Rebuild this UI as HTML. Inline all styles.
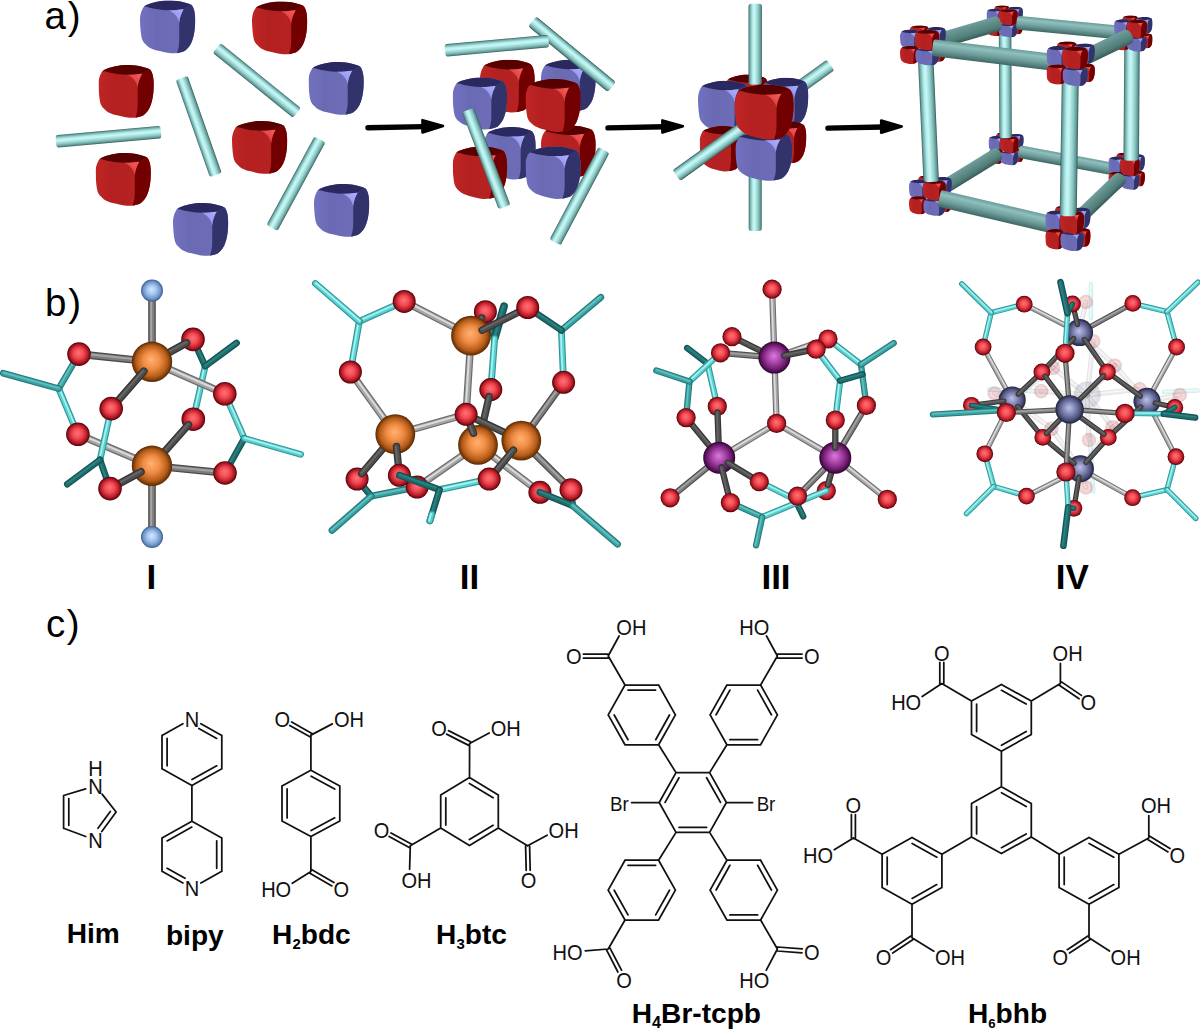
<!DOCTYPE html><html><head><meta charset="utf-8"><title>figure</title><style>html,body{margin:0;padding:0;background:#fff}svg{display:block}text{font-family:"Liberation Sans",sans-serif}.r{font-weight:400}.b{font-weight:700}</style></head><body><svg width="1200" height="1029" viewBox="0 0 1200 1029">
<defs>
 <clipPath id="sil"><path d="M0,18 C0.5,11 3,6.5 6,4.7 C12,2 22,0 28.7,0 C36,0 46,1.5 51.5,4.4 C54,6 55.6,12 55.6,19.3 C55.6,27 55,36 51.5,43.3 C49,48 46,51 43.9,51.5 C40,53 35,53.6 31.3,53.4 C26,53 21,51.5 18.6,50.9 C13,49.5 10,48 7.9,46.4 C5,44 3,42 2.2,39.5 C0.8,35 0,25 0,18 Z"/></clipPath>
 <linearGradient id="hlR" x1="1" y1="0" x2="0.2" y2="0.8"><stop offset="0" stop-color="#ff5c5c"/><stop offset="1" stop-color="#cf3a3a"/></linearGradient>
 <linearGradient id="hlB" x1="1" y1="0" x2="0.2" y2="0.8"><stop offset="0" stop-color="#b0b0ff"/><stop offset="1" stop-color="#9090e8"/></linearGradient>
 <linearGradient id="frR" x1="0" y1="0" x2="1" y2="0"><stop offset="0" stop-color="#c22626"/><stop offset="0.3" stop-color="#b42020"/><stop offset="1" stop-color="#b82323"/></linearGradient>
 <linearGradient id="frB" x1="0" y1="0" x2="1" y2="0"><stop offset="0" stop-color="#7272c2"/><stop offset="0.3" stop-color="#6a6ab4"/><stop offset="1" stop-color="#6e6eba"/></linearGradient>
 <symbol id="cR" viewBox="0 0 56 54" preserveAspectRatio="none"><g clip-path="url(#sil)">
  <rect x="-2" y="-2" width="60" height="58" fill="url(#frR)"/>
  <path d="M-2,-2 L-2,9 L5.4,6 C14,8.6 22,9.8 28.7,9.8 C34,9.8 40,9.3 43.9,8.8 L54,3 L58,-2 Z" fill="#560000"/>
  <path d="M43.9,8.8 L58,0 L58,56 L36.5,56 L37.6,52.1 C39,48 39.5,44 39.5,40 L39.5,22.4 C40,17 42,12 43.9,8.8 Z" fill="#720000"/>
  <path d="M28.7,9.8 C34,9.8 40,9.3 43.9,8.8 C42,12 40,17 39.5,22.4 C38.5,17 34,11.5 28.7,9.8 Z" fill="url(#hlR)"/>
 </g></symbol>
 <symbol id="cB" viewBox="0 0 56 54" preserveAspectRatio="none"><g clip-path="url(#sil)">
  <rect x="-2" y="-2" width="60" height="58" fill="url(#frB)"/>
  <path d="M-2,-2 L-2,9 L5.4,6 C14,8.6 22,9.8 28.7,9.8 C34,9.8 40,9.3 43.9,8.8 L54,3 L58,-2 Z" fill="#29295f"/>
  <path d="M43.9,8.8 L58,0 L58,56 L36.5,56 L37.6,52.1 C39,48 39.5,44 39.5,40 L39.5,22.4 C40,17 42,12 43.9,8.8 Z" fill="#33336c"/>
  <path d="M28.7,9.8 C34,9.8 40,9.3 43.9,8.8 C42,12 40,17 39.5,22.4 C38.5,17 34,11.5 28.7,9.8 Z" fill="url(#hlB)"/>
 </g></symbol>
 <linearGradient id="rodL" x1="0" y1="0" x2="0" y2="1"><stop offset="0" stop-color="#3c6260"/><stop offset="0.1" stop-color="#6ca6a3"/><stop offset="0.3" stop-color="#b0ecea"/><stop offset="0.45" stop-color="#c8f8f6"/><stop offset="0.72" stop-color="#8ecac7"/><stop offset="0.9" stop-color="#5e9693"/><stop offset="1" stop-color="#345755"/></linearGradient>
 <linearGradient id="rodM" x1="0" y1="0" x2="0" y2="1"><stop offset="0" stop-color="#6a9a97"/><stop offset="0.25" stop-color="#8fc0bd"/><stop offset="0.6" stop-color="#6f9f9c"/><stop offset="1" stop-color="#3f6663"/></linearGradient>
 <linearGradient id="rodD" x1="0" y1="0" x2="0" y2="1"><stop offset="0" stop-color="#70a09c"/><stop offset="0.3" stop-color="#638f8c"/><stop offset="0.7" stop-color="#527e7a"/><stop offset="1" stop-color="#385a57"/></linearGradient>
</defs>
<text x="44.6" y="28.8" font-size="38.5" class="r">a<tspan dx="1.8">)</tspan></text>
<use href="#cB" x="140.0" y="0.5" width="55.6" height="53.4"/>
<use href="#cR" x="252.0" y="1.5" width="55.6" height="53.4"/>
<use href="#cR" x="98.5" y="65.0" width="55.6" height="53.4"/>
<use href="#cB" x="308.5" y="62.0" width="55.6" height="53.4"/>
<use href="#cR" x="232.0" y="121.0" width="55.6" height="53.4"/>
<use href="#cR" x="95.6" y="153.0" width="55.6" height="53.4"/>
<use href="#cB" x="173.0" y="203.0" width="55.6" height="53.4"/>
<use href="#cB" x="314.0" y="184.0" width="55.6" height="53.4"/>
<g transform="translate(56.0,141.5) rotate(-5.17)"><rect x="0" y="-6.25" width="105.4" height="12.50" rx="2.2" ry="2.64" fill="url(#rodL)"/></g>
<g transform="translate(215.8,175.0) rotate(-109.37)"><rect x="0" y="-6.25" width="102.8" height="12.50" rx="2.2" ry="2.64" fill="url(#rodL)"/></g>
<g transform="translate(216.7,48.0) rotate(38.99)"><rect x="0" y="-6.25" width="103.3" height="12.50" rx="2.2" ry="2.64" fill="url(#rodL)"/></g>
<g transform="translate(272.0,228.0) rotate(-61.55)"><rect x="0" y="-6.25" width="100.8" height="12.50" rx="2.2" ry="2.64" fill="url(#rodL)"/></g>
<path d="M368.0,127.7 L424.5,126.60000000000001" stroke="#000" stroke-width="5.4" stroke-linecap="round"/>
<path d="M443.0,126.0 L422.5,120.2 L422.5,132.4 Z" fill="#000" stroke="#000" stroke-width="2.6" stroke-linejoin="round"/>
<path d="M608.0,127.9 L664.4,126.80000000000001" stroke="#000" stroke-width="5.4" stroke-linecap="round"/>
<path d="M682.9,126.2 L662.4,120.4 L662.4,132.6 Z" fill="#000" stroke="#000" stroke-width="2.6" stroke-linejoin="round"/>
<path d="M828.0,128.1 L883.2,127.0" stroke="#000" stroke-width="5.4" stroke-linecap="round"/>
<path d="M901.7,126.39999999999999 L881.2,120.6 L881.2,132.79999999999998 Z" fill="#000" stroke="#000" stroke-width="2.6" stroke-linejoin="round"/>
<use href="#cR" x="480.0" y="59.8" width="55.0" height="53.2"/>
<g transform="translate(532.3,21.5) rotate(39.49)"><rect x="0" y="-6.25" width="103.0" height="12.50" rx="2.2" ry="2.64" fill="url(#rodL)"/></g>
<use href="#cB" x="541.0" y="59.8" width="55.0" height="52.2"/>
<g transform="translate(532.3,21.5) rotate(39.49)"><rect x="0" y="-6.25" width="103.0" height="12.50" rx="2.2" ry="2.64" fill="url(#rodL)"/></g>
<g transform="translate(445.0,50.5) rotate(-5.23)"><rect x="0" y="-6.25" width="104.1" height="12.50" rx="2.2" ry="2.64" fill="url(#rodL)"/></g>
<use href="#cB" x="484.0" y="127.0" width="52.0" height="53.0"/>
<use href="#cR" x="541.0" y="125.5" width="55.0" height="52.5"/>
<use href="#cB" x="452.7" y="77.5" width="54.8" height="52.5"/>
<use href="#cR" x="525.5" y="79.0" width="55.5" height="53.5"/>
<use href="#cR" x="452.7" y="146.5" width="54.8" height="53.0"/>
<use href="#cB" x="525.5" y="146.5" width="55.5" height="53.0"/>
<g transform="translate(504.5,207.0) rotate(-110.67)"><rect x="0" y="-6.25" width="103.7" height="12.50" rx="2.2" ry="2.64" fill="url(#rodL)"/></g>
<g transform="translate(555.0,242.4) rotate(-62.06)"><rect x="0" y="-6.25" width="104.6" height="12.50" rx="2.2" ry="2.64" fill="url(#rodL)"/></g>
<use href="#cR" x="724.5" y="74.5" width="44.5" height="45.5"/>
<g transform="translate(755.2,84.6) rotate(-90.00)"><rect x="0" y="-6.70" width="80.8" height="13.40" rx="2.2" ry="2.64" fill="url(#rodL)"/></g>
<g transform="translate(755.2,231.0) rotate(-90.00)"><rect x="0" y="-6.50" width="61.0" height="13.00" rx="2.2" ry="2.64" fill="url(#rodL)"/></g>
<g transform="translate(676.5,175.5) rotate(-35.64)"><rect x="0" y="-6.50" width="189.6" height="13.00" rx="2.2" ry="2.64" fill="url(#rodL)"/></g>
<use href="#cB" x="761.0" y="77.8" width="47.6" height="48.2"/>
<use href="#cR" x="763.6" y="121.0" width="43.0" height="42.6"/>
<use href="#cB" x="698.0" y="80.8" width="52.0" height="52.2"/>
<use href="#cR" x="699.7" y="126.0" width="44.3" height="46.0"/>
<g transform="translate(676.5,175.5) rotate(-35.63)"><rect x="0" y="-6.50" width="84.3" height="13.00" rx="2.2" ry="2.64" fill="url(#rodL)"/></g>
<use href="#cB" x="735.4" y="131.5" width="57.3" height="49.8"/>
<use href="#cR" x="734.6" y="84.6" width="59.4" height="55.6"/>
<use href="#cR" x="995.9" y="132.6" width="14.8" height="11.8"/>
<use href="#cB" x="1007.9" y="133.9" width="15.9" height="15.1"/>
<use href="#cR" x="1009.7" y="148.7" width="14.1" height="13.8"/>
<use href="#cB" x="988.5" y="135.9" width="15.5" height="16.4"/>
<use href="#cR" x="988.5" y="149.3" width="14.8" height="14.9"/>
<use href="#cB" x="1000.1" y="151.0" width="18.5" height="14.4"/>
<use href="#cR" x="999.8" y="136.4" width="19.1" height="16.7"/>
<g transform="translate(1018.5,151.4) rotate(10.56)"><rect x="0" y="-6.30" width="110.8" height="12.60" rx="3" ry="3.5999999999999996" fill="url(#rodM)"/></g>
<g transform="translate(1005.6,138.2) rotate(-90.29)"><rect x="0" y="-6.25" width="116.7" height="12.50" rx="3" ry="3.5999999999999996" fill="url(#rodL)"/></g>
<use href="#cR" x="1116.1" y="152.8" width="15.4" height="13.4"/>
<use href="#cB" x="1128.5" y="154.3" width="16.5" height="17.1"/>
<use href="#cR" x="1130.4" y="171.0" width="14.6" height="15.6"/>
<use href="#cB" x="1108.4" y="156.5" width="16.1" height="18.6"/>
<use href="#cR" x="1108.4" y="171.8" width="15.4" height="16.9"/>
<use href="#cB" x="1120.5" y="173.6" width="19.2" height="16.4"/>
<use href="#cR" x="1120.1" y="157.1" width="19.8" height="19.0"/>
<use href="#cR" x="994.2" y="5.5" width="15.3" height="11.5"/>
<use href="#cB" x="1006.6" y="6.8" width="16.4" height="14.7"/>
<use href="#cR" x="1008.4" y="21.1" width="14.6" height="13.4"/>
<use href="#cB" x="986.5" y="8.7" width="16.1" height="15.9"/>
<use href="#cR" x="986.5" y="21.8" width="15.3" height="14.5"/>
<use href="#cB" x="998.5" y="23.4" width="19.2" height="14.0"/>
<use href="#cR" x="998.2" y="9.2" width="19.7" height="16.3"/>
<g transform="translate(1131.2,160.8) rotate(-89.59)"><rect x="0" y="-7.75" width="126.8" height="15.50" rx="3.5" ry="4.2" fill="url(#rodL)"/></g>
<g transform="translate(1016.5,22.6) rotate(5.56)"><rect x="0" y="-6.90" width="117.8" height="13.80" rx="3" ry="3.5999999999999996" fill="url(#rodM)"/></g>
<use href="#cR" x="1122.1" y="15.6" width="16.2" height="13.0"/>
<use href="#cB" x="1135.2" y="17.0" width="17.4" height="16.7"/>
<use href="#cR" x="1137.2" y="33.3" width="15.4" height="15.2"/>
<use href="#cB" x="1114.0" y="19.2" width="17.0" height="18.1"/>
<use href="#cR" x="1114.0" y="34.1" width="16.2" height="16.5"/>
<use href="#cB" x="1126.7" y="35.9" width="20.3" height="15.9"/>
<use href="#cR" x="1126.4" y="19.8" width="20.8" height="18.5"/>
<g transform="translate(922.8,45.5) rotate(-16.28)"><rect x="0" y="-7.75" width="81.4" height="15.50" rx="5" ry="6.0" fill="url(#rodD)"/></g>
<g transform="translate(1070.5,64.4) rotate(-25.69)"><rect x="0" y="-7.75" width="68.0" height="15.50" rx="5" ry="6.0" fill="url(#rodD)"/></g>
<g transform="translate(930.4,195.7) rotate(-31.70)"><rect x="0" y="-7.00" width="82.6" height="14.00" rx="5" ry="6.0" fill="url(#rodD)"/></g>
<g transform="translate(1068.0,228.5) rotate(-43.72)"><rect x="0" y="-7.00" width="76.4" height="14.00" rx="5" ry="6.0" fill="url(#rodD)"/></g>
<use href="#cR" x="918.0" y="175.5" width="18.1" height="14.6"/>
<use href="#cB" x="932.6" y="177.1" width="19.4" height="18.6"/>
<use href="#cR" x="934.8" y="195.3" width="17.2" height="17.0"/>
<use href="#cB" x="909.0" y="179.6" width="18.9" height="20.2"/>
<use href="#cR" x="909.0" y="196.2" width="18.1" height="18.4"/>
<use href="#cB" x="923.2" y="198.2" width="22.6" height="17.8"/>
<use href="#cR" x="922.8" y="180.2" width="23.2" height="20.7"/>
<g transform="translate(931.2,182.0) rotate(-92.56)"><rect x="0" y="-7.75" width="136.6" height="15.50" rx="3.5" ry="4.2" fill="url(#rodL)"/></g>
<g transform="translate(939.2,198.2) rotate(13.24)"><rect x="0" y="-8.50" width="132.3" height="17.00" rx="2.2" ry="2.64" fill="url(#rodM)"/></g>
<use href="#cR" x="1054.8" y="205.8" width="19.1" height="16.4"/>
<use href="#cB" x="1070.3" y="207.6" width="20.4" height="20.9"/>
<use href="#cR" x="1072.5" y="228.1" width="18.2" height="19.1"/>
<use href="#cB" x="1045.3" y="210.4" width="20.0" height="22.8"/>
<use href="#cR" x="1045.3" y="229.0" width="19.1" height="20.7"/>
<use href="#cB" x="1060.3" y="231.3" width="23.8" height="20.0"/>
<use href="#cR" x="1059.8" y="211.0" width="24.5" height="23.2"/>
<use href="#cR" x="909.7" y="25.5" width="19.3" height="14.4"/>
<use href="#cB" x="925.3" y="27.1" width="20.7" height="18.4"/>
<use href="#cR" x="927.6" y="45.1" width="18.4" height="16.8"/>
<use href="#cB" x="900.0" y="29.5" width="20.2" height="20.0"/>
<use href="#cR" x="900.0" y="46.0" width="19.3" height="18.2"/>
<use href="#cB" x="915.2" y="48.0" width="24.2" height="17.6"/>
<use href="#cR" x="914.7" y="30.1" width="24.8" height="20.5"/>
<g transform="translate(1068.2,216.2) rotate(-89.13)"><rect x="0" y="-8.50" width="151.8" height="17.00" rx="4" ry="4.8" fill="url(#rodL)"/></g>
<g transform="translate(932.5,47.6) rotate(6.94)"><rect x="0" y="-8.50" width="139.0" height="17.00" rx="2.2" ry="2.64" fill="url(#rodM)"/></g>
<use href="#cR" x="1056.7" y="41.6" width="20.4" height="16.1"/>
<use href="#cB" x="1073.2" y="43.4" width="21.8" height="20.6"/>
<use href="#cR" x="1075.6" y="63.6" width="19.4" height="18.8"/>
<use href="#cB" x="1046.5" y="46.1" width="21.3" height="22.4"/>
<use href="#cR" x="1046.5" y="64.4" width="20.4" height="20.4"/>
<use href="#cB" x="1062.5" y="66.7" width="25.5" height="19.7"/>
<use href="#cR" x="1062.0" y="46.8" width="26.2" height="22.8"/>
<defs><radialGradient id="bCu" cx="0.5" cy="0.5" r="0.5" fx="0.48" fy="0.44"><stop offset="0" stop-color="#ffb272"/><stop offset="0.42" stop-color="#f08c44"/><stop offset="0.78" stop-color="#b45c18"/><stop offset="1" stop-color="#582802"/></radialGradient><radialGradient id="bO" cx="0.5" cy="0.5" r="0.5" fx="0.48" fy="0.44"><stop offset="0" stop-color="#ff7272"/><stop offset="0.42" stop-color="#f24a54"/><stop offset="0.78" stop-color="#b41a26"/><stop offset="1" stop-color="#500006"/></radialGradient><radialGradient id="bN" cx="0.5" cy="0.5" r="0.5" fx="0.48" fy="0.44"><stop offset="0" stop-color="#d4e8ff"/><stop offset="0.42" stop-color="#a4c6f0"/><stop offset="0.78" stop-color="#6f96c8"/><stop offset="1" stop-color="#3f5c88"/></radialGradient><radialGradient id="bMn" cx="0.5" cy="0.5" r="0.5" fx="0.48" fy="0.44"><stop offset="0" stop-color="#dc7adc"/><stop offset="0.42" stop-color="#a844a8"/><stop offset="0.78" stop-color="#6c1a6c"/><stop offset="1" stop-color="#2e042e"/></radialGradient><radialGradient id="bZr" cx="0.5" cy="0.5" r="0.5" fx="0.48" fy="0.44"><stop offset="0" stop-color="#bcc0ea"/><stop offset="0.42" stop-color="#8286b4"/><stop offset="0.78" stop-color="#4c507a"/><stop offset="1" stop-color="#1e2038"/></radialGradient></defs>
<text x="45" y="315.9" font-size="38.5" class="r">b<tspan dx="1.8">)</tspan></text>
<g fill="none" stroke-linecap="round"><path d="M193.0,339.4 L205.2,366.2" stroke="#125252" stroke-width="6.6"/><path d="M193.0,339.4 L205.2,366.2" stroke="#1e6c6c" stroke-width="4.4"/><path d="M193.6,339.1 L205.8,365.9" stroke="#2c8282" stroke-width="1.7"/></g>
<g fill="none" stroke-linecap="round"><path d="M205.2,366.2 L193.3,419.2" stroke="#2f9696" stroke-width="6.6"/><path d="M205.2,366.2 L193.3,419.2" stroke="#5cd0d0" stroke-width="4.4"/><path d="M204.6,366.1 L192.7,419.1" stroke="#a4f2f2" stroke-width="1.7"/></g>
<g fill="none" stroke-linecap="round"><path d="M205.2,366.2 L236.6,343.0" stroke="#125252" stroke-width="6.6"/><path d="M205.2,366.2 L236.6,343.0" stroke="#1e6c6c" stroke-width="4.4"/><path d="M204.8,365.7 L236.2,342.5" stroke="#2c8282" stroke-width="1.7"/></g>
<circle cx="193.0" cy="339.4" r="11.8" fill="url(#bO)"/>
<circle cx="193.3" cy="419.2" r="11.8" fill="url(#bO)"/>
<g fill="none" stroke-linecap="round"><path d="M152.0,361.8 L186.6,342.9" stroke="#343434" stroke-width="7.6"/><path d="M152.0,361.8 L186.6,342.9" stroke="#4e4e4e" stroke-width="5.0"/><path d="M151.6,361.1 L186.2,342.2" stroke="#666666" stroke-width="2.0"/></g>
<g fill="none" stroke-linecap="round"><path d="M152.0,465.8 L188.4,424.7" stroke="#343434" stroke-width="7.6"/><path d="M152.0,465.8 L188.4,424.7" stroke="#4e4e4e" stroke-width="5.0"/><path d="M151.4,465.3 L187.9,424.2" stroke="#666666" stroke-width="2.0"/></g>
<g fill="none" stroke-linecap="round"><path d="M79.0,354.1 L58.7,388.6" stroke="#237a7a" stroke-width="6.6"/><path d="M79.0,354.1 L58.7,388.6" stroke="#3ba2a2" stroke-width="4.4"/><path d="M78.4,353.8 L58.1,388.3" stroke="#62c0c0" stroke-width="1.7"/></g>
<g fill="none" stroke-linecap="round"><path d="M58.7,388.6 L77.9,434.3" stroke="#2f9696" stroke-width="6.6"/><path d="M58.7,388.6 L77.9,434.3" stroke="#5cd0d0" stroke-width="4.4"/><path d="M59.3,388.3 L78.5,434.0" stroke="#a4f2f2" stroke-width="1.7"/></g>
<g fill="none" stroke-linecap="round"><path d="M58.7,388.6 L3.2,373.2" stroke="#237a7a" stroke-width="6.6"/><path d="M58.7,388.6 L3.2,373.2" stroke="#3ba2a2" stroke-width="4.4"/><path d="M58.9,388.0 L3.4,372.6" stroke="#62c0c0" stroke-width="1.7"/></g>
<g fill="none" stroke-linecap="round"><path d="M224.8,393.8 L244.3,438.3" stroke="#2f9696" stroke-width="6.6"/><path d="M224.8,393.8 L244.3,438.3" stroke="#5cd0d0" stroke-width="4.4"/><path d="M225.4,393.5 L244.9,438.0" stroke="#a4f2f2" stroke-width="1.7"/></g>
<g fill="none" stroke-linecap="round"><path d="M244.3,438.3 L225.0,473.0" stroke="#125252" stroke-width="6.6"/><path d="M244.3,438.3 L225.0,473.0" stroke="#1e6c6c" stroke-width="4.4"/><path d="M243.7,438.0 L224.4,472.7" stroke="#2c8282" stroke-width="1.7"/></g>
<g fill="none" stroke-linecap="round"><path d="M244.3,438.3 L300.7,454.4" stroke="#2f9696" stroke-width="6.6"/><path d="M244.3,438.3 L300.7,454.4" stroke="#5cd0d0" stroke-width="4.4"/><path d="M244.5,437.7 L300.9,453.8" stroke="#a4f2f2" stroke-width="1.7"/></g>
<g fill="none" stroke-linecap="round"><path d="M152.0,290.6 L152.0,361.8" stroke="#4c4c4c" stroke-width="7.6"/><path d="M152.0,290.6 L152.0,361.8" stroke="#7c7c7c" stroke-width="5.0"/><path d="M151.2,290.6 L151.2,361.8" stroke="#a4a4a4" stroke-width="2.0"/></g>
<g fill="none" stroke-linecap="round"><path d="M152.0,537.0 L152.0,465.8" stroke="#4c4c4c" stroke-width="7.6"/><path d="M152.0,537.0 L152.0,465.8" stroke="#7c7c7c" stroke-width="5.0"/><path d="M151.2,537.0 L151.2,465.8" stroke="#a4a4a4" stroke-width="2.0"/></g>
<g fill="none" stroke-linecap="round"><path d="M152.0,361.8 L79.0,354.1" stroke="#4c4c4c" stroke-width="7.6"/><path d="M152.0,361.8 L79.0,354.1" stroke="#7c7c7c" stroke-width="5.0"/><path d="M152.1,361.0 L79.1,353.3" stroke="#a4a4a4" stroke-width="2.0"/></g>
<g fill="none" stroke-linecap="round"><path d="M152.0,361.8 L224.8,393.8" stroke="#6e6e6e" stroke-width="7.6"/><path d="M152.0,361.8 L224.8,393.8" stroke="#a6a6a6" stroke-width="5.0"/><path d="M152.3,361.1 L225.1,393.1" stroke="#dcdcdc" stroke-width="2.0"/></g>
<g fill="none" stroke-linecap="round"><path d="M152.0,465.8 L77.9,434.3" stroke="#6e6e6e" stroke-width="7.6"/><path d="M152.0,465.8 L77.9,434.3" stroke="#a6a6a6" stroke-width="5.0"/><path d="M152.3,465.1 L78.2,433.6" stroke="#dcdcdc" stroke-width="2.0"/></g>
<g fill="none" stroke-linecap="round"><path d="M152.0,465.8 L225.0,473.0" stroke="#4c4c4c" stroke-width="7.6"/><path d="M152.0,465.8 L225.0,473.0" stroke="#7c7c7c" stroke-width="5.0"/><path d="M152.1,465.0 L225.1,472.2" stroke="#a4a4a4" stroke-width="2.0"/></g>
<circle cx="152.0" cy="290.6" r="11.0" fill="url(#bN)"/>
<circle cx="152.0" cy="537.0" r="11.0" fill="url(#bN)"/>
<circle cx="152.0" cy="361.8" r="20.2" fill="url(#bCu)"/>
<circle cx="152.0" cy="465.8" r="20.2" fill="url(#bCu)"/>
<circle cx="79.0" cy="354.1" r="11.8" fill="url(#bO)"/>
<circle cx="224.8" cy="393.8" r="11.8" fill="url(#bO)"/>
<circle cx="77.9" cy="434.3" r="11.8" fill="url(#bO)"/>
<circle cx="225.0" cy="473.0" r="11.8" fill="url(#bO)"/>
<g fill="none" stroke-linecap="round"><path d="M143.8,371.2 L111.2,408.6" stroke="#343434" stroke-width="7.6"/><path d="M143.8,371.2 L111.2,408.6" stroke="#4e4e4e" stroke-width="5.0"/><path d="M143.2,370.7 L110.6,408.1" stroke="#666666" stroke-width="2.0"/></g>
<g fill="none" stroke-linecap="round"><path d="M141.0,471.8 L110.0,488.6" stroke="#343434" stroke-width="7.6"/><path d="M141.0,471.8 L110.0,488.6" stroke="#4e4e4e" stroke-width="5.0"/><path d="M140.6,471.1 L109.6,487.9" stroke="#666666" stroke-width="2.0"/></g>
<g fill="none" stroke-linecap="round"><path d="M111.2,408.6 L100.0,459.8" stroke="#2f9696" stroke-width="6.6"/><path d="M111.2,408.6 L100.0,459.8" stroke="#5cd0d0" stroke-width="4.4"/><path d="M110.6,408.5 L99.4,459.7" stroke="#a4f2f2" stroke-width="1.7"/></g>
<g fill="none" stroke-linecap="round"><path d="M100.0,459.8 L110.0,488.6" stroke="#125252" stroke-width="6.6"/><path d="M100.0,459.8 L110.0,488.6" stroke="#1e6c6c" stroke-width="4.4"/><path d="M99.4,460.0 L109.4,488.8" stroke="#2c8282" stroke-width="1.7"/></g>
<g fill="none" stroke-linecap="round"><path d="M100.0,459.8 L67.3,484.2" stroke="#125252" stroke-width="6.6"/><path d="M100.0,459.8 L67.3,484.2" stroke="#1e6c6c" stroke-width="4.4"/><path d="M99.6,459.3 L66.9,483.7" stroke="#2c8282" stroke-width="1.7"/></g>
<circle cx="111.2" cy="408.6" r="11.8" fill="url(#bO)"/>
<circle cx="110.0" cy="488.6" r="11.8" fill="url(#bO)"/>
<g fill="none" stroke-linecap="round"><path d="M485.4,311.7 L494.7,338.3" stroke="#125252" stroke-width="6.8"/><path d="M485.4,311.7 L494.7,338.3" stroke="#1e6c6c" stroke-width="4.5"/><path d="M484.8,311.9 L494.1,338.5" stroke="#2c8282" stroke-width="1.8"/></g>
<g fill="none" stroke-linecap="round"><path d="M357.1,479.1 L371.2,496.1" stroke="#125252" stroke-width="6.8"/><path d="M357.1,479.1 L371.2,496.1" stroke="#1e6c6c" stroke-width="4.5"/><path d="M357.6,478.7 L371.7,495.7" stroke="#2c8282" stroke-width="1.8"/></g>
<circle cx="485.4" cy="311.7" r="11.5" fill="url(#bO)"/>
<circle cx="357.1" cy="479.1" r="11.5" fill="url(#bO)"/>
<g fill="none" stroke-linecap="round"><path d="M494.7,338.3 L504.0,306.3" stroke="#125252" stroke-width="7.8"/><path d="M494.7,338.3 L504.0,306.3" stroke="#1e6c6c" stroke-width="5.1"/><path d="M494.0,338.1 L503.3,306.1" stroke="#2c8282" stroke-width="2.0"/></g>
<g fill="none" stroke-linecap="round"><path d="M494.7,338.3 L490.8,389.6" stroke="#2f9696" stroke-width="6.8"/><path d="M494.7,338.3 L490.8,389.6" stroke="#5cd0d0" stroke-width="4.5"/><path d="M494.0,338.2 L490.1,389.5" stroke="#a4f2f2" stroke-width="1.8"/></g>
<circle cx="490.8" cy="389.6" r="11.5" fill="url(#bO)"/>
<g fill="none" stroke-linecap="round"><path d="M471.0,335.7 L481.7,317.8" stroke="#343434" stroke-width="7.4"/><path d="M471.0,335.7 L481.7,317.8" stroke="#4e4e4e" stroke-width="4.9"/><path d="M470.4,335.3 L481.1,317.4" stroke="#666666" stroke-width="1.9"/></g>
<g fill="none" stroke-linecap="round"><path d="M395.3,434.2 L361.7,473.7" stroke="#343434" stroke-width="7.4"/><path d="M395.3,434.2 L361.7,473.7" stroke="#4e4e4e" stroke-width="4.9"/><path d="M394.7,433.7 L361.2,473.2" stroke="#666666" stroke-width="1.9"/></g>
<g fill="none" stroke-linecap="round"><path d="M404.2,301.4 L359.3,321.3" stroke="#2f9696" stroke-width="6.8"/><path d="M404.2,301.4 L359.3,321.3" stroke="#5cd0d0" stroke-width="4.5"/><path d="M403.9,300.8 L359.0,320.7" stroke="#a4f2f2" stroke-width="1.8"/></g>
<g fill="none" stroke-linecap="round"><path d="M359.3,321.3 L350.4,372.0" stroke="#2f9696" stroke-width="6.8"/><path d="M359.3,321.3 L350.4,372.0" stroke="#5cd0d0" stroke-width="4.5"/><path d="M358.6,321.2 L349.7,371.9" stroke="#a4f2f2" stroke-width="1.8"/></g>
<g fill="none" stroke-linecap="round"><path d="M359.3,321.3 L315.4,283.5" stroke="#2f9696" stroke-width="6.8"/><path d="M359.3,321.3 L315.4,283.5" stroke="#5cd0d0" stroke-width="4.5"/><path d="M359.7,320.8 L315.8,283.0" stroke="#a4f2f2" stroke-width="1.8"/></g>
<g fill="none" stroke-linecap="round"><path d="M561.4,330.3 L563.6,382.3" stroke="#2f9696" stroke-width="6.8"/><path d="M561.4,330.3 L563.6,382.3" stroke="#5cd0d0" stroke-width="4.5"/><path d="M560.7,330.3 L562.9,382.3" stroke="#a4f2f2" stroke-width="1.8"/></g>
<g fill="none" stroke-linecap="round"><path d="M561.4,330.3 L600.8,297.3" stroke="#237a7a" stroke-width="6.8"/><path d="M561.4,330.3 L600.8,297.3" stroke="#3ba2a2" stroke-width="4.5"/><path d="M561.0,329.8 L600.4,296.8" stroke="#62c0c0" stroke-width="1.8"/></g>
<g fill="none" stroke-linecap="round"><path d="M471.0,335.7 L404.2,301.4" stroke="#6e6e6e" stroke-width="7.4"/><path d="M471.0,335.7 L404.2,301.4" stroke="#a6a6a6" stroke-width="4.9"/><path d="M471.3,335.0 L404.5,300.7" stroke="#dcdcdc" stroke-width="1.9"/></g>
<g fill="none" stroke-linecap="round"><path d="M471.0,335.7 L466.1,414.3" stroke="#6e6e6e" stroke-width="7.4"/><path d="M471.0,335.7 L466.1,414.3" stroke="#a6a6a6" stroke-width="4.9"/><path d="M470.3,335.7 L465.4,414.3" stroke="#dcdcdc" stroke-width="1.9"/></g>
<g fill="none" stroke-linecap="round"><path d="M395.3,434.2 L350.4,372.0" stroke="#6e6e6e" stroke-width="7.4"/><path d="M395.3,434.2 L350.4,372.0" stroke="#a6a6a6" stroke-width="4.9"/><path d="M395.9,433.8 L351.0,371.6" stroke="#dcdcdc" stroke-width="1.9"/></g>
<g fill="none" stroke-linecap="round"><path d="M395.3,434.2 L466.1,414.3" stroke="#6e6e6e" stroke-width="7.4"/><path d="M395.3,434.2 L466.1,414.3" stroke="#a6a6a6" stroke-width="4.9"/><path d="M395.1,433.5 L465.9,413.6" stroke="#dcdcdc" stroke-width="1.9"/></g>
<circle cx="471.0" cy="335.7" r="19.9" fill="url(#bCu)"/>
<circle cx="395.3" cy="434.2" r="19.9" fill="url(#bCu)"/>
<circle cx="404.2" cy="301.4" r="11.5" fill="url(#bO)"/>
<circle cx="350.4" cy="372.0" r="11.5" fill="url(#bO)"/>
<g fill="none" stroke-linecap="round"><path d="M478.0,444.8 L489.2,396.5" stroke="#343434" stroke-width="7.4"/><path d="M478.0,444.8 L489.2,396.5" stroke="#4e4e4e" stroke-width="4.9"/><path d="M477.3,444.6 L488.5,396.4" stroke="#666666" stroke-width="1.9"/></g>
<g fill="none" stroke-linecap="round"><path d="M521.3,440.6 L563.6,382.3" stroke="#4c4c4c" stroke-width="7.4"/><path d="M521.3,440.6 L563.6,382.3" stroke="#7c7c7c" stroke-width="4.9"/><path d="M520.7,440.2 L563.0,381.9" stroke="#a4a4a4" stroke-width="1.9"/></g>
<g fill="none" stroke-linecap="round"><path d="M521.3,440.6 L571.0,489.7" stroke="#4c4c4c" stroke-width="7.4"/><path d="M521.3,440.6 L571.0,489.7" stroke="#7c7c7c" stroke-width="4.9"/><path d="M521.8,440.1 L571.5,489.2" stroke="#a4a4a4" stroke-width="1.9"/></g>
<g fill="none" stroke-linecap="round"><path d="M482.0,330.2 L527.7,307.5" stroke="#343434" stroke-width="7.4"/><path d="M482.0,330.2 L527.7,307.5" stroke="#4e4e4e" stroke-width="4.9"/><path d="M481.7,329.5 L527.4,306.8" stroke="#666666" stroke-width="1.9"/></g>
<g fill="none" stroke-linecap="round"><path d="M521.3,440.6 L466.1,414.3" stroke="#343434" stroke-width="7.4"/><path d="M521.3,440.6 L466.1,414.3" stroke="#4e4e4e" stroke-width="4.9"/><path d="M521.6,439.9 L466.4,413.6" stroke="#666666" stroke-width="1.9"/></g>
<g fill="none" stroke-linecap="round"><path d="M527.7,307.5 L561.4,330.3" stroke="#125252" stroke-width="6.8"/><path d="M527.7,307.5 L561.4,330.3" stroke="#1e6c6c" stroke-width="4.5"/><path d="M528.1,306.9 L561.8,329.7" stroke="#2c8282" stroke-width="1.8"/></g>
<g fill="none" stroke-linecap="round"><path d="M571.0,489.7 L572.6,505.7" stroke="#125252" stroke-width="6.8"/><path d="M571.0,489.7 L572.6,505.7" stroke="#1e6c6c" stroke-width="4.5"/><path d="M570.3,489.8 L571.9,505.8" stroke="#2c8282" stroke-width="1.8"/></g>
<circle cx="521.3" cy="440.6" r="19.9" fill="url(#bCu)"/>
<circle cx="527.7" cy="307.5" r="11.5" fill="url(#bO)"/>
<circle cx="563.6" cy="382.3" r="11.5" fill="url(#bO)"/>
<circle cx="571.0" cy="489.7" r="11.5" fill="url(#bO)"/>
<g fill="none" stroke-linecap="round"><path d="M396.5,446.5 L399.4,475.3" stroke="#343434" stroke-width="7.4"/><path d="M396.5,446.5 L399.4,475.3" stroke="#4e4e4e" stroke-width="4.9"/><path d="M395.8,446.6 L398.7,475.4" stroke="#666666" stroke-width="1.9"/></g>
<g fill="none" stroke-linecap="round"><path d="M478.0,444.8 L417.1,487.1" stroke="#6e6e6e" stroke-width="7.4"/><path d="M478.0,444.8 L417.1,487.1" stroke="#a6a6a6" stroke-width="4.9"/><path d="M477.6,444.2 L416.7,486.5" stroke="#dcdcdc" stroke-width="1.9"/></g>
<g fill="none" stroke-linecap="round"><path d="M371.2,496.1 L417.1,487.1" stroke="#237a7a" stroke-width="6.8"/><path d="M371.2,496.1 L417.1,487.1" stroke="#3ba2a2" stroke-width="4.5"/><path d="M371.1,495.4 L417.0,486.4" stroke="#62c0c0" stroke-width="1.8"/></g>
<g fill="none" stroke-linecap="round"><path d="M371.2,496.1 L332.0,530.4" stroke="#237a7a" stroke-width="6.8"/><path d="M371.2,496.1 L332.0,530.4" stroke="#3ba2a2" stroke-width="4.5"/><path d="M370.8,495.6 L331.6,529.9" stroke="#62c0c0" stroke-width="1.8"/></g>
<circle cx="417.1" cy="487.1" r="11.5" fill="url(#bO)"/>
<g fill="none" stroke-linecap="round"><path d="M478.0,444.8 L539.9,492.3" stroke="#6e6e6e" stroke-width="7.4"/><path d="M478.0,444.8 L539.9,492.3" stroke="#a6a6a6" stroke-width="4.9"/><path d="M478.5,444.2 L540.4,491.7" stroke="#dcdcdc" stroke-width="1.9"/></g>
<circle cx="478.0" cy="444.8" r="19.9" fill="url(#bCu)"/>
<circle cx="399.4" cy="475.3" r="11.5" fill="url(#bO)"/>
<g fill="none" stroke-linecap="round"><path d="M399.4,475.3 L439.5,489.7" stroke="#125252" stroke-width="6.8"/><path d="M399.4,475.3 L439.5,489.7" stroke="#1e6c6c" stroke-width="4.5"/><path d="M399.6,474.7 L439.7,489.1" stroke="#2c8282" stroke-width="1.8"/></g>
<g fill="none" stroke-linecap="round"><path d="M439.5,489.7 L489.2,479.1" stroke="#2f9696" stroke-width="6.8"/><path d="M439.5,489.7 L489.2,479.1" stroke="#5cd0d0" stroke-width="4.5"/><path d="M439.4,489.0 L489.1,478.4" stroke="#a4f2f2" stroke-width="1.8"/></g>
<g fill="none" stroke-linecap="round"><path d="M439.5,489.7 L429.9,520.8" stroke="#125252" stroke-width="6.8"/><path d="M439.5,489.7 L429.9,520.8" stroke="#1e6c6c" stroke-width="4.5"/><path d="M438.9,489.5 L429.3,520.6" stroke="#2c8282" stroke-width="1.8"/></g>
<g fill="none" stroke-linecap="round"><path d="M431.8,514.0 L429.9,520.8" stroke="#2f9696" stroke-width="6.8"/><path d="M431.8,514.0 L429.9,520.8" stroke="#5cd0d0" stroke-width="4.5"/><path d="M431.1,513.8 L429.2,520.6" stroke="#a4f2f2" stroke-width="1.8"/></g>
<g fill="none" stroke-linecap="round"><path d="M473.5,433.3 L466.1,414.3" stroke="#343434" stroke-width="7.4"/><path d="M473.5,433.3 L466.1,414.3" stroke="#4e4e4e" stroke-width="4.9"/><path d="M472.8,433.6 L465.4,414.6" stroke="#666666" stroke-width="1.9"/></g>
<g fill="none" stroke-linecap="round"><path d="M513.4,450.1 L489.2,479.1" stroke="#343434" stroke-width="7.4"/><path d="M513.4,450.1 L489.2,479.1" stroke="#4e4e4e" stroke-width="4.9"/><path d="M512.8,449.6 L488.6,478.6" stroke="#666666" stroke-width="1.9"/></g>
<circle cx="466.1" cy="414.3" r="11.5" fill="url(#bO)"/>
<circle cx="489.2" cy="479.1" r="11.5" fill="url(#bO)"/>
<circle cx="539.9" cy="492.3" r="11.5" fill="url(#bO)"/>
<g fill="none" stroke-linecap="round"><path d="M539.9,492.3 L572.6,505.7" stroke="#125252" stroke-width="6.8"/><path d="M539.9,492.3 L572.6,505.7" stroke="#1e6c6c" stroke-width="4.5"/><path d="M540.2,491.7 L572.9,505.1" stroke="#2c8282" stroke-width="1.8"/></g>
<g fill="none" stroke-linecap="round"><path d="M572.6,505.7 L617.5,544.2" stroke="#237a7a" stroke-width="6.8"/><path d="M572.6,505.7 L617.5,544.2" stroke="#3ba2a2" stroke-width="4.5"/><path d="M573.0,505.2 L617.9,543.7" stroke="#62c0c0" stroke-width="1.8"/></g>
<g fill="none" stroke-linecap="round"><path d="M687.1,348.0 L707.6,363.7" stroke="#125252" stroke-width="6.3"/><path d="M687.1,348.0 L707.6,363.7" stroke="#1e6c6c" stroke-width="4.2"/><path d="M687.5,347.5 L708.0,363.2" stroke="#2c8282" stroke-width="1.6"/></g>
<g fill="none" stroke-linecap="round"><path d="M707.6,363.7 L717.3,406.4" stroke="#2f9696" stroke-width="6.3"/><path d="M707.6,363.7 L717.3,406.4" stroke="#5cd0d0" stroke-width="4.2"/><path d="M707.0,363.8 L716.7,406.5" stroke="#a4f2f2" stroke-width="1.6"/></g>
<g fill="none" stroke-linecap="round"><path d="M828.0,339.0 L861.0,364.6" stroke="#2f9696" stroke-width="6.3"/><path d="M828.0,339.0 L861.0,364.6" stroke="#5cd0d0" stroke-width="4.2"/><path d="M828.4,338.5 L861.4,364.1" stroke="#a4f2f2" stroke-width="1.6"/></g>
<g fill="none" stroke-linecap="round"><path d="M861.0,364.6 L866.4,405.4" stroke="#237a7a" stroke-width="6.3"/><path d="M861.0,364.6 L866.4,405.4" stroke="#3ba2a2" stroke-width="4.2"/><path d="M860.4,364.7 L865.8,405.5" stroke="#62c0c0" stroke-width="1.6"/></g>
<g fill="none" stroke-linecap="round"><path d="M861.0,364.6 L893.7,343.1" stroke="#237a7a" stroke-width="6.3"/><path d="M861.0,364.6 L893.7,343.1" stroke="#3ba2a2" stroke-width="4.2"/><path d="M860.7,364.1 L893.4,342.6" stroke="#62c0c0" stroke-width="1.6"/></g>
<g fill="none" stroke-linecap="round"><path d="M774.4,357.6 L828.0,339.0" stroke="#6e6e6e" stroke-width="6.3"/><path d="M774.4,357.6 L828.0,339.0" stroke="#a6a6a6" stroke-width="4.2"/><path d="M774.2,357.0 L827.8,338.4" stroke="#dcdcdc" stroke-width="1.6"/></g>
<g fill="none" stroke-linecap="round"><path d="M835.3,457.7 L866.4,405.4" stroke="#4c4c4c" stroke-width="6.3"/><path d="M835.3,457.7 L866.4,405.4" stroke="#7c7c7c" stroke-width="4.2"/><path d="M834.8,457.4 L865.9,405.1" stroke="#a4a4a4" stroke-width="1.6"/></g>
<circle cx="828.0" cy="339.0" r="9.6" fill="url(#bO)"/>
<circle cx="717.3" cy="406.4" r="9.6" fill="url(#bO)"/>
<circle cx="866.4" cy="405.4" r="9.6" fill="url(#bO)"/>
<circle cx="826.3" cy="490.7" r="9.6" fill="url(#bO)"/>
<g fill="none" stroke-linecap="round"><path d="M719.2,457.7 L717.5,412.3" stroke="#343434" stroke-width="6.3"/><path d="M719.2,457.7 L717.5,412.3" stroke="#4e4e4e" stroke-width="4.2"/><path d="M718.6,457.7 L716.9,412.4" stroke="#666666" stroke-width="1.6"/></g>
<g fill="none" stroke-linecap="round"><path d="M835.3,457.7 L827.9,485.0" stroke="#343434" stroke-width="6.3"/><path d="M835.3,457.7 L827.9,485.0" stroke="#4e4e4e" stroke-width="4.2"/><path d="M834.7,457.5 L827.3,484.8" stroke="#666666" stroke-width="1.6"/></g>
<g fill="none" stroke-linecap="round"><path d="M774.4,357.6 L772.1,289.2" stroke="#6e6e6e" stroke-width="6.3"/><path d="M774.4,357.6 L772.1,289.2" stroke="#a6a6a6" stroke-width="4.2"/><path d="M773.8,357.6 L771.5,289.2" stroke="#dcdcdc" stroke-width="1.6"/></g>
<g fill="none" stroke-linecap="round"><path d="M774.4,357.6 L732.0,336.7" stroke="#343434" stroke-width="6.3"/><path d="M774.4,357.6 L732.0,336.7" stroke="#4e4e4e" stroke-width="4.2"/><path d="M774.7,357.0 L732.3,336.1" stroke="#666666" stroke-width="1.6"/></g>
<g fill="none" stroke-linecap="round"><path d="M774.4,357.6 L720.5,352.8" stroke="#4c4c4c" stroke-width="6.3"/><path d="M774.4,357.6 L720.5,352.8" stroke="#7c7c7c" stroke-width="4.2"/><path d="M774.5,357.0 L720.6,352.2" stroke="#a4a4a4" stroke-width="1.6"/></g>
<g fill="none" stroke-linecap="round"><path d="M774.4,357.6 L776.6,423.4" stroke="#6e6e6e" stroke-width="6.3"/><path d="M774.4,357.6 L776.6,423.4" stroke="#a6a6a6" stroke-width="4.2"/><path d="M773.8,357.6 L776.0,423.4" stroke="#dcdcdc" stroke-width="1.6"/></g>
<g fill="none" stroke-linecap="round"><path d="M719.2,457.7 L686.1,417.6" stroke="#343434" stroke-width="6.3"/><path d="M719.2,457.7 L686.1,417.6" stroke="#4e4e4e" stroke-width="4.2"/><path d="M719.7,457.3 L686.6,417.2" stroke="#666666" stroke-width="1.6"/></g>
<g fill="none" stroke-linecap="round"><path d="M719.2,457.7 L776.6,423.4" stroke="#6e6e6e" stroke-width="6.3"/><path d="M719.2,457.7 L776.6,423.4" stroke="#a6a6a6" stroke-width="4.2"/><path d="M718.9,457.2 L776.3,422.9" stroke="#dcdcdc" stroke-width="1.6"/></g>
<g fill="none" stroke-linecap="round"><path d="M719.2,457.7 L670.1,497.8" stroke="#4c4c4c" stroke-width="6.3"/><path d="M719.2,457.7 L670.1,497.8" stroke="#7c7c7c" stroke-width="4.2"/><path d="M718.8,457.2 L669.7,497.3" stroke="#a4a4a4" stroke-width="1.6"/></g>
<g fill="none" stroke-linecap="round"><path d="M835.3,457.7 L776.6,423.4" stroke="#6e6e6e" stroke-width="6.3"/><path d="M835.3,457.7 L776.6,423.4" stroke="#a6a6a6" stroke-width="4.2"/><path d="M835.6,457.2 L776.9,422.9" stroke="#dcdcdc" stroke-width="1.6"/></g>
<g fill="none" stroke-linecap="round"><path d="M835.3,457.7 L797.5,496.2" stroke="#4c4c4c" stroke-width="6.3"/><path d="M835.3,457.7 L797.5,496.2" stroke="#7c7c7c" stroke-width="4.2"/><path d="M834.9,457.3 L797.1,495.8" stroke="#a4a4a4" stroke-width="1.6"/></g>
<g fill="none" stroke-linecap="round"><path d="M835.3,457.7 L887.3,499.4" stroke="#6e6e6e" stroke-width="6.3"/><path d="M835.3,457.7 L887.3,499.4" stroke="#a6a6a6" stroke-width="4.2"/><path d="M835.7,457.2 L887.7,498.9" stroke="#dcdcdc" stroke-width="1.6"/></g>
<circle cx="774.4" cy="357.6" r="16.0" fill="url(#bMn)"/>
<circle cx="719.2" cy="457.7" r="16.0" fill="url(#bMn)"/>
<circle cx="835.3" cy="457.7" r="16.0" fill="url(#bMn)"/>
<circle cx="772.1" cy="289.2" r="9.6" fill="url(#bO)"/>
<circle cx="670.1" cy="497.8" r="9.6" fill="url(#bO)"/>
<circle cx="887.3" cy="499.4" r="9.6" fill="url(#bO)"/>
<circle cx="776.6" cy="423.4" r="9.6" fill="url(#bO)"/>
<circle cx="732.0" cy="336.7" r="9.6" fill="url(#bO)"/>
<g fill="none" stroke-linecap="round"><path d="M784.1,355.6 L816.1,349.2" stroke="#343434" stroke-width="6.3"/><path d="M784.1,355.6 L816.1,349.2" stroke="#4e4e4e" stroke-width="4.2"/><path d="M784.0,355.0 L816.0,348.6" stroke="#666666" stroke-width="1.6"/></g>
<g fill="none" stroke-linecap="round"><path d="M721.6,467.3 L730.4,502.6" stroke="#343434" stroke-width="6.3"/><path d="M721.6,467.3 L730.4,502.6" stroke="#4e4e4e" stroke-width="4.2"/><path d="M721.0,467.5 L729.8,502.8" stroke="#666666" stroke-width="1.6"/></g>
<g fill="none" stroke-linecap="round"><path d="M727.7,462.8 L759.3,481.7" stroke="#343434" stroke-width="6.3"/><path d="M727.7,462.8 L759.3,481.7" stroke="#4e4e4e" stroke-width="4.2"/><path d="M728.0,462.3 L759.6,481.2" stroke="#666666" stroke-width="1.6"/></g>
<g fill="none" stroke-linecap="round"><path d="M835.3,447.8 L835.3,420.1" stroke="#343434" stroke-width="6.3"/><path d="M835.3,447.8 L835.3,420.1" stroke="#4e4e4e" stroke-width="4.2"/><path d="M834.7,447.8 L834.7,420.1" stroke="#666666" stroke-width="1.6"/></g>
<g fill="none" stroke-linecap="round"><path d="M759.3,481.7 L792.0,498.0" stroke="#2f9696" stroke-width="6.3"/><path d="M759.3,481.7 L792.0,498.0" stroke="#5cd0d0" stroke-width="4.2"/><path d="M759.6,481.1 L792.3,497.4" stroke="#a4f2f2" stroke-width="1.6"/></g>
<g fill="none" stroke-linecap="round"><path d="M795.0,499.5 L803.2,516.4" stroke="#125252" stroke-width="6.3"/><path d="M795.0,499.5 L803.2,516.4" stroke="#1e6c6c" stroke-width="4.2"/><path d="M795.6,499.2 L803.8,516.1" stroke="#2c8282" stroke-width="1.6"/></g>
<g fill="none" stroke-linecap="round"><path d="M720.5,352.8 L689.4,381.6" stroke="#2f9696" stroke-width="6.3"/><path d="M720.5,352.8 L689.4,381.6" stroke="#5cd0d0" stroke-width="4.2"/><path d="M720.1,352.3 L689.0,381.1" stroke="#a4f2f2" stroke-width="1.6"/></g>
<g fill="none" stroke-linecap="round"><path d="M689.4,381.6 L686.1,417.6" stroke="#237a7a" stroke-width="6.3"/><path d="M689.4,381.6 L686.1,417.6" stroke="#3ba2a2" stroke-width="4.2"/><path d="M688.8,381.5 L685.5,417.5" stroke="#62c0c0" stroke-width="1.6"/></g>
<g fill="none" stroke-linecap="round"><path d="M689.4,381.6 L656.3,370.4" stroke="#237a7a" stroke-width="6.3"/><path d="M689.4,381.6 L656.3,370.4" stroke="#3ba2a2" stroke-width="4.2"/><path d="M689.6,381.0 L656.5,369.8" stroke="#62c0c0" stroke-width="1.6"/></g>
<g fill="none" stroke-linecap="round"><path d="M816.1,349.2 L840.1,380.7" stroke="#2f9696" stroke-width="6.3"/><path d="M816.1,349.2 L840.1,380.7" stroke="#5cd0d0" stroke-width="4.2"/><path d="M816.6,348.8 L840.6,380.3" stroke="#a4f2f2" stroke-width="1.6"/></g>
<g fill="none" stroke-linecap="round"><path d="M840.1,380.7 L835.3,420.1" stroke="#2f9696" stroke-width="6.3"/><path d="M840.1,380.7 L835.3,420.1" stroke="#5cd0d0" stroke-width="4.2"/><path d="M839.5,380.6 L834.7,420.0" stroke="#a4f2f2" stroke-width="1.6"/></g>
<g fill="none" stroke-linecap="round"><path d="M840.1,380.7 L862.6,374.3" stroke="#125252" stroke-width="6.3"/><path d="M840.1,380.7 L862.6,374.3" stroke="#1e6c6c" stroke-width="4.2"/><path d="M839.9,380.1 L862.4,373.7" stroke="#2c8282" stroke-width="1.6"/></g>
<g fill="none" stroke-linecap="round"><path d="M730.4,502.6 L762.2,517.0" stroke="#237a7a" stroke-width="6.3"/><path d="M730.4,502.6 L762.2,517.0" stroke="#3ba2a2" stroke-width="4.2"/><path d="M730.7,502.0 L762.5,516.4" stroke="#62c0c0" stroke-width="1.6"/></g>
<g fill="none" stroke-linecap="round"><path d="M762.2,517.0 L826.3,490.7" stroke="#2f9696" stroke-width="6.3"/><path d="M762.2,517.0 L826.3,490.7" stroke="#5cd0d0" stroke-width="4.2"/><path d="M762.0,516.4 L826.1,490.1" stroke="#a4f2f2" stroke-width="1.6"/></g>
<g fill="none" stroke-linecap="round"><path d="M762.2,517.0 L756.1,545.3" stroke="#237a7a" stroke-width="6.3"/><path d="M762.2,517.0 L756.1,545.3" stroke="#3ba2a2" stroke-width="4.2"/><path d="M761.6,516.9 L755.5,545.2" stroke="#62c0c0" stroke-width="1.6"/></g>
<circle cx="720.5" cy="352.8" r="9.6" fill="url(#bO)"/>
<circle cx="816.1" cy="349.2" r="9.6" fill="url(#bO)"/>
<circle cx="686.1" cy="417.6" r="9.6" fill="url(#bO)"/>
<circle cx="835.3" cy="420.1" r="9.6" fill="url(#bO)"/>
<circle cx="730.4" cy="502.6" r="9.6" fill="url(#bO)"/>
<circle cx="759.3" cy="481.7" r="9.6" fill="url(#bO)"/>
<circle cx="797.5" cy="496.2" r="9.6" fill="url(#bO)"/>
<g fill="none" stroke-linecap="round" opacity="0.2"><path d="M1087.2,395.0 L1053.0,367.8" stroke="#6e6e6e" stroke-width="5.0"/><path d="M1087.2,395.0 L1053.0,367.8" stroke="#a6a6a6" stroke-width="3.3"/><path d="M1087.5,394.6 L1053.3,367.4" stroke="#dcdcdc" stroke-width="1.3"/></g>
<g fill="none" stroke-linecap="round" opacity="0.2"><path d="M1087.2,395.0 L1114.7,365.6" stroke="#6e6e6e" stroke-width="5.0"/><path d="M1087.2,395.0 L1114.7,365.6" stroke="#a6a6a6" stroke-width="3.3"/><path d="M1086.8,394.7 L1114.3,365.3" stroke="#dcdcdc" stroke-width="1.3"/></g>
<g fill="none" stroke-linecap="round" opacity="0.2"><path d="M1087.2,395.0 L1041.2,391.2" stroke="#6e6e6e" stroke-width="5.0"/><path d="M1087.2,395.0 L1041.2,391.2" stroke="#a6a6a6" stroke-width="3.3"/><path d="M1087.2,394.5 L1041.2,390.7" stroke="#dcdcdc" stroke-width="1.3"/></g>
<g fill="none" stroke-linecap="round" opacity="0.2"><path d="M1087.2,395.0 L1139.7,389.3" stroke="#6e6e6e" stroke-width="5.0"/><path d="M1087.2,395.0 L1139.7,389.3" stroke="#a6a6a6" stroke-width="3.3"/><path d="M1087.1,394.5 L1139.6,388.8" stroke="#dcdcdc" stroke-width="1.3"/></g>
<g fill="none" stroke-linecap="round" opacity="0.2"><path d="M1087.2,395.0 L1051.5,428.8" stroke="#6e6e6e" stroke-width="5.0"/><path d="M1087.2,395.0 L1051.5,428.8" stroke="#a6a6a6" stroke-width="3.3"/><path d="M1086.9,394.6 L1051.2,428.4" stroke="#dcdcdc" stroke-width="1.3"/></g>
<g fill="none" stroke-linecap="round" opacity="0.2"><path d="M1087.2,395.0 L1112.4,427.2" stroke="#6e6e6e" stroke-width="5.0"/><path d="M1087.2,395.0 L1112.4,427.2" stroke="#a6a6a6" stroke-width="3.3"/><path d="M1087.6,394.7 L1112.8,426.9" stroke="#dcdcdc" stroke-width="1.3"/></g>
<g fill="none" stroke-linecap="round" opacity="0.2"><path d="M1087.2,395.0 L1089.0,440.0" stroke="#6e6e6e" stroke-width="5.0"/><path d="M1087.2,395.0 L1089.0,440.0" stroke="#a6a6a6" stroke-width="3.3"/><path d="M1086.7,395.0 L1088.5,440.0" stroke="#dcdcdc" stroke-width="1.3"/></g>
<g fill="none" stroke-linecap="round" opacity="0.2"><path d="M1087.2,395.0 L1093.2,341.2" stroke="#6e6e6e" stroke-width="5.0"/><path d="M1087.2,395.0 L1093.2,341.2" stroke="#a6a6a6" stroke-width="3.3"/><path d="M1086.7,394.9 L1092.7,341.1" stroke="#dcdcdc" stroke-width="1.3"/></g>
<g fill="none" stroke-linecap="round" opacity="0.2"><path d="M1091.0,284.5 L1091.0,318.0" stroke="#2f9696" stroke-width="4.5"/><path d="M1091.0,284.5 L1091.0,318.0" stroke="#5cd0d0" stroke-width="3.0"/><path d="M1090.5,284.5 L1090.5,318.0" stroke="#a4f2f2" stroke-width="1.2"/></g>
<g fill="none" stroke-linecap="round" opacity="0.2"><path d="M989.0,389.5 L1041.2,391.5" stroke="#2f9696" stroke-width="4.5"/><path d="M989.0,389.5 L1041.2,391.5" stroke="#5cd0d0" stroke-width="3.0"/><path d="M989.0,389.1 L1041.2,391.1" stroke="#a4f2f2" stroke-width="1.2"/></g>
<g fill="none" stroke-linecap="round" opacity="0.2"><path d="M1163.8,392.0 L1197.5,390.5" stroke="#2f9696" stroke-width="4.5"/><path d="M1163.8,392.0 L1197.5,390.5" stroke="#5cd0d0" stroke-width="3.0"/><path d="M1163.8,391.6 L1197.5,390.1" stroke="#a4f2f2" stroke-width="1.2"/></g>
<g fill="none" stroke-linecap="round" opacity="0.2"><path d="M1090.0,437.0 L1093.2,491.3" stroke="#2f9696" stroke-width="4.5"/><path d="M1090.0,437.0 L1093.2,491.3" stroke="#5cd0d0" stroke-width="3.0"/><path d="M1089.6,437.0 L1092.8,491.3" stroke="#a4f2f2" stroke-width="1.2"/></g>
<g fill="none" stroke-linecap="round" opacity="0.2"><path d="M1079.4,332.5 L1085.8,302.0" stroke="#6e6e6e" stroke-width="5.0"/><path d="M1079.4,332.5 L1085.8,302.0" stroke="#a6a6a6" stroke-width="3.3"/><path d="M1078.9,332.4 L1085.3,301.9" stroke="#dcdcdc" stroke-width="1.3"/></g>
<g fill="none" stroke-linecap="round" opacity="0.2"><path d="M1012.4,399.9 L994.7,393.5" stroke="#6e6e6e" stroke-width="5.0"/><path d="M1012.4,399.9 L994.7,393.5" stroke="#a6a6a6" stroke-width="3.3"/><path d="M1012.6,399.4 L994.9,393.0" stroke="#dcdcdc" stroke-width="1.3"/></g>
<g fill="none" stroke-linecap="round" opacity="0.2"><path d="M1147.1,401.5 L1179.8,395.0" stroke="#6e6e6e" stroke-width="5.0"/><path d="M1147.1,401.5 L1179.8,395.0" stroke="#a6a6a6" stroke-width="3.3"/><path d="M1147.0,401.0 L1179.7,394.5" stroke="#dcdcdc" stroke-width="1.3"/></g>
<g fill="none" stroke-linecap="round" opacity="0.2"><path d="M1080.4,468.8 L1085.8,487.5" stroke="#6e6e6e" stroke-width="5.0"/><path d="M1080.4,468.8 L1085.8,487.5" stroke="#a6a6a6" stroke-width="3.3"/><path d="M1079.9,468.9 L1085.3,487.6" stroke="#dcdcdc" stroke-width="1.3"/></g>
<g fill="none" stroke-linecap="round" opacity="0.2"><path d="M1079.4,332.5 L1114.7,365.6" stroke="#6e6e6e" stroke-width="5.0"/><path d="M1079.4,332.5 L1114.7,365.6" stroke="#a6a6a6" stroke-width="3.3"/><path d="M1079.7,332.1 L1115.0,365.2" stroke="#dcdcdc" stroke-width="1.3"/></g>
<g fill="none" stroke-linecap="round" opacity="0.2"><path d="M1147.1,401.5 L1114.7,365.6" stroke="#6e6e6e" stroke-width="5.0"/><path d="M1147.1,401.5 L1114.7,365.6" stroke="#a6a6a6" stroke-width="3.3"/><path d="M1147.5,401.2 L1115.1,365.3" stroke="#dcdcdc" stroke-width="1.3"/></g>
<g fill="none" stroke-linecap="round" opacity="0.2"><path d="M1012.4,399.9 L1051.5,428.8" stroke="#6e6e6e" stroke-width="5.0"/><path d="M1012.4,399.9 L1051.5,428.8" stroke="#a6a6a6" stroke-width="3.3"/><path d="M1012.7,399.5 L1051.8,428.4" stroke="#dcdcdc" stroke-width="1.3"/></g>
<g fill="none" stroke-linecap="round" opacity="0.2"><path d="M1080.4,468.8 L1051.5,428.8" stroke="#6e6e6e" stroke-width="5.0"/><path d="M1080.4,468.8 L1051.5,428.8" stroke="#a6a6a6" stroke-width="3.3"/><path d="M1080.8,468.5 L1051.9,428.5" stroke="#dcdcdc" stroke-width="1.3"/></g>
<g fill="none" stroke-linecap="round" opacity="0.2"><path d="M1080.4,468.8 L1112.4,427.2" stroke="#6e6e6e" stroke-width="5.0"/><path d="M1080.4,468.8 L1112.4,427.2" stroke="#a6a6a6" stroke-width="3.3"/><path d="M1080.0,468.5 L1112.0,426.9" stroke="#dcdcdc" stroke-width="1.3"/></g>
<g fill="none" stroke-linecap="round" opacity="0.2"><path d="M1147.1,401.5 L1112.4,427.2" stroke="#6e6e6e" stroke-width="5.0"/><path d="M1147.1,401.5 L1112.4,427.2" stroke="#a6a6a6" stroke-width="3.3"/><path d="M1146.8,401.1 L1112.1,426.8" stroke="#dcdcdc" stroke-width="1.3"/></g>
<g fill="none" stroke-linecap="round" opacity="0.2"><path d="M1079.4,332.5 L1053.0,367.8" stroke="#6e6e6e" stroke-width="5.0"/><path d="M1079.4,332.5 L1053.0,367.8" stroke="#a6a6a6" stroke-width="3.3"/><path d="M1079.0,332.2 L1052.6,367.5" stroke="#dcdcdc" stroke-width="1.3"/></g>
<g fill="none" stroke-linecap="round" opacity="0.2"><path d="M1012.4,399.9 L1053.0,367.8" stroke="#6e6e6e" stroke-width="5.0"/><path d="M1012.4,399.9 L1053.0,367.8" stroke="#a6a6a6" stroke-width="3.3"/><path d="M1012.1,399.5 L1052.7,367.4" stroke="#dcdcdc" stroke-width="1.3"/></g>
<circle cx="1087.2" cy="395.0" r="13.5" fill="url(#bZr)" opacity="0.16"/>
<circle cx="1085.8" cy="302.0" r="7.2" fill="url(#bO)" opacity="0.2"/>
<circle cx="1053.0" cy="367.8" r="7.2" fill="url(#bO)" opacity="0.2"/>
<circle cx="1114.7" cy="365.6" r="7.2" fill="url(#bO)" opacity="0.2"/>
<circle cx="1041.2" cy="391.2" r="7.2" fill="url(#bO)" opacity="0.2"/>
<circle cx="994.7" cy="393.5" r="7.2" fill="url(#bO)" opacity="0.2"/>
<circle cx="1179.8" cy="395.0" r="7.2" fill="url(#bO)" opacity="0.2"/>
<circle cx="1139.7" cy="389.3" r="7.2" fill="url(#bO)" opacity="0.2"/>
<circle cx="1051.5" cy="428.8" r="7.2" fill="url(#bO)" opacity="0.2"/>
<circle cx="1112.4" cy="427.2" r="7.2" fill="url(#bO)" opacity="0.2"/>
<circle cx="1089.0" cy="440.0" r="7.2" fill="url(#bO)" opacity="0.2"/>
<circle cx="1085.8" cy="487.5" r="7.2" fill="url(#bO)" opacity="0.2"/>
<circle cx="1093.2" cy="341.2" r="7.2" fill="url(#bO)" opacity="0.2"/>
<g fill="none" stroke-linecap="round"><path d="M1024.2,304.2 L991.2,312.7" stroke="#2f9696" stroke-width="5.4"/><path d="M1024.2,304.2 L991.2,312.7" stroke="#5cd0d0" stroke-width="3.6"/><path d="M1024.1,303.7 L991.1,312.2" stroke="#a4f2f2" stroke-width="1.4"/></g>
<g fill="none" stroke-linecap="round"><path d="M991.2,312.7 L983.1,347.0" stroke="#2f9696" stroke-width="5.4"/><path d="M991.2,312.7 L983.1,347.0" stroke="#5cd0d0" stroke-width="3.6"/><path d="M990.7,312.6 L982.6,346.9" stroke="#a4f2f2" stroke-width="1.4"/></g>
<g fill="none" stroke-linecap="round"><path d="M991.2,312.7 L961.7,283.8" stroke="#2f9696" stroke-width="5.4"/><path d="M991.2,312.7 L961.7,283.8" stroke="#5cd0d0" stroke-width="3.6"/><path d="M991.6,312.3 L962.1,283.4" stroke="#a4f2f2" stroke-width="1.4"/></g>
<g fill="none" stroke-linecap="round"><path d="M1132.8,303.4 L1167.0,311.7" stroke="#2f9696" stroke-width="5.4"/><path d="M1132.8,303.4 L1167.0,311.7" stroke="#5cd0d0" stroke-width="3.6"/><path d="M1132.9,302.9 L1167.1,311.2" stroke="#a4f2f2" stroke-width="1.4"/></g>
<g fill="none" stroke-linecap="round"><path d="M1167.0,311.7 L1176.6,347.0" stroke="#2f9696" stroke-width="5.4"/><path d="M1167.0,311.7 L1176.6,347.0" stroke="#5cd0d0" stroke-width="3.6"/><path d="M1166.5,311.8 L1176.1,347.1" stroke="#a4f2f2" stroke-width="1.4"/></g>
<g fill="none" stroke-linecap="round"><path d="M1167.0,311.7 L1198.0,282.2" stroke="#2f9696" stroke-width="5.4"/><path d="M1167.0,311.7 L1198.0,282.2" stroke="#5cd0d0" stroke-width="3.6"/><path d="M1166.6,311.3 L1197.6,281.8" stroke="#a4f2f2" stroke-width="1.4"/></g>
<g fill="none" stroke-linecap="round"><path d="M984.8,453.8 L993.8,486.5" stroke="#2f9696" stroke-width="5.4"/><path d="M984.8,453.8 L993.8,486.5" stroke="#5cd0d0" stroke-width="3.6"/><path d="M984.3,453.9 L993.3,486.6" stroke="#a4f2f2" stroke-width="1.4"/></g>
<g fill="none" stroke-linecap="round"><path d="M993.8,486.5 L1026.5,496.1" stroke="#2f9696" stroke-width="5.4"/><path d="M993.8,486.5 L1026.5,496.1" stroke="#5cd0d0" stroke-width="3.6"/><path d="M994.0,486.0 L1026.7,495.6" stroke="#a4f2f2" stroke-width="1.4"/></g>
<g fill="none" stroke-linecap="round"><path d="M993.8,486.5 L966.5,513.7" stroke="#2f9696" stroke-width="5.4"/><path d="M993.8,486.5 L966.5,513.7" stroke="#5cd0d0" stroke-width="3.6"/><path d="M993.4,486.1 L966.1,513.3" stroke="#a4f2f2" stroke-width="1.4"/></g>
<g fill="none" stroke-linecap="round"><path d="M1175.9,456.7 L1167.0,489.7" stroke="#2f9696" stroke-width="5.4"/><path d="M1175.9,456.7 L1167.0,489.7" stroke="#5cd0d0" stroke-width="3.6"/><path d="M1175.4,456.6 L1166.5,489.6" stroke="#a4f2f2" stroke-width="1.4"/></g>
<g fill="none" stroke-linecap="round"><path d="M1167.0,489.7 L1132.6,497.7" stroke="#2f9696" stroke-width="5.4"/><path d="M1167.0,489.7 L1132.6,497.7" stroke="#5cd0d0" stroke-width="3.6"/><path d="M1166.9,489.2 L1132.5,497.2" stroke="#a4f2f2" stroke-width="1.4"/></g>
<g fill="none" stroke-linecap="round"><path d="M1167.0,489.7 L1195.8,518.5" stroke="#2f9696" stroke-width="5.4"/><path d="M1167.0,489.7 L1195.8,518.5" stroke="#5cd0d0" stroke-width="3.6"/><path d="M1167.4,489.3 L1196.2,518.1" stroke="#a4f2f2" stroke-width="1.4"/></g>
<g fill="none" stroke-linecap="round"><path d="M1079.6,332.6 L1024.2,304.2" stroke="#6e6e6e" stroke-width="5.2"/><path d="M1079.6,332.6 L1024.2,304.2" stroke="#a6a6a6" stroke-width="3.4"/><path d="M1079.8,332.1 L1024.4,303.7" stroke="#dcdcdc" stroke-width="1.4"/></g>
<g fill="none" stroke-linecap="round"><path d="M1079.6,332.6 L1132.8,303.4" stroke="#4c4c4c" stroke-width="5.2"/><path d="M1079.6,332.6 L1132.8,303.4" stroke="#7c7c7c" stroke-width="3.4"/><path d="M1079.3,332.1 L1132.5,302.9" stroke="#a4a4a4" stroke-width="1.4"/></g>
<g fill="none" stroke-linecap="round"><path d="M1012.2,399.9 L983.1,347.0" stroke="#6e6e6e" stroke-width="5.2"/><path d="M1012.2,399.9 L983.1,347.0" stroke="#a6a6a6" stroke-width="3.4"/><path d="M1012.7,399.6 L983.6,346.7" stroke="#dcdcdc" stroke-width="1.4"/></g>
<g fill="none" stroke-linecap="round"><path d="M1012.2,399.9 L984.8,453.8" stroke="#6e6e6e" stroke-width="5.2"/><path d="M1012.2,399.9 L984.8,453.8" stroke="#a6a6a6" stroke-width="3.4"/><path d="M1011.7,399.7 L984.3,453.6" stroke="#dcdcdc" stroke-width="1.4"/></g>
<g fill="none" stroke-linecap="round"><path d="M1147.0,401.2 L1176.6,347.0" stroke="#6e6e6e" stroke-width="5.2"/><path d="M1147.0,401.2 L1176.6,347.0" stroke="#a6a6a6" stroke-width="3.4"/><path d="M1146.5,401.0 L1176.1,346.8" stroke="#dcdcdc" stroke-width="1.4"/></g>
<g fill="none" stroke-linecap="round"><path d="M1147.0,401.2 L1175.9,456.7" stroke="#6e6e6e" stroke-width="5.2"/><path d="M1147.0,401.2 L1175.9,456.7" stroke="#a6a6a6" stroke-width="3.4"/><path d="M1147.5,401.0 L1176.4,456.5" stroke="#dcdcdc" stroke-width="1.4"/></g>
<g fill="none" stroke-linecap="round"><path d="M1080.4,468.8 L1026.5,496.1" stroke="#6e6e6e" stroke-width="5.2"/><path d="M1080.4,468.8 L1026.5,496.1" stroke="#a6a6a6" stroke-width="3.4"/><path d="M1080.2,468.3 L1026.3,495.6" stroke="#dcdcdc" stroke-width="1.4"/></g>
<g fill="none" stroke-linecap="round"><path d="M1080.4,468.8 L1132.6,497.7" stroke="#6e6e6e" stroke-width="5.2"/><path d="M1080.4,468.8 L1132.6,497.7" stroke="#a6a6a6" stroke-width="3.4"/><path d="M1080.7,468.3 L1132.9,497.2" stroke="#dcdcdc" stroke-width="1.4"/></g>
<circle cx="1079.6" cy="332.6" r="13.5" fill="url(#bZr)"/>
<circle cx="1012.2" cy="399.9" r="13.5" fill="url(#bZr)"/>
<circle cx="1147.0" cy="401.2" r="13.5" fill="url(#bZr)"/>
<circle cx="1080.4" cy="468.8" r="13.5" fill="url(#bZr)"/>
<circle cx="1024.2" cy="304.2" r="8.4" fill="url(#bO)"/>
<circle cx="983.1" cy="347.0" r="8.4" fill="url(#bO)"/>
<circle cx="1132.8" cy="303.4" r="8.4" fill="url(#bO)"/>
<circle cx="1176.6" cy="347.0" r="8.4" fill="url(#bO)"/>
<circle cx="984.8" cy="453.8" r="8.4" fill="url(#bO)"/>
<circle cx="1026.5" cy="496.1" r="8.4" fill="url(#bO)"/>
<circle cx="1175.9" cy="456.7" r="8.4" fill="url(#bO)"/>
<circle cx="1132.6" cy="497.7" r="8.4" fill="url(#bO)"/>
<g fill="none" stroke-linecap="round"><path d="M1072.5,304.0 L1077.6,324.5" stroke="#343434" stroke-width="5.2"/><path d="M1072.5,304.0 L1077.6,324.5" stroke="#4e4e4e" stroke-width="3.4"/><path d="M1072.0,304.1 L1077.1,324.6" stroke="#666666" stroke-width="1.4"/></g>
<g fill="none" stroke-linecap="round"><path d="M971.4,405.3 L1003.9,401.0" stroke="#343434" stroke-width="5.2"/><path d="M971.4,405.3 L1003.9,401.0" stroke="#4e4e4e" stroke-width="3.4"/><path d="M971.3,404.8 L1003.8,400.5" stroke="#666666" stroke-width="1.4"/></g>
<g fill="none" stroke-linecap="round"><path d="M1174.8,407.4 L1155.2,403.0" stroke="#343434" stroke-width="5.2"/><path d="M1174.8,407.4 L1155.2,403.0" stroke="#4e4e4e" stroke-width="3.4"/><path d="M1174.9,406.9 L1155.3,402.5" stroke="#666666" stroke-width="1.4"/></g>
<g fill="none" stroke-linecap="round"><path d="M1073.9,508.3 L1079.0,477.1" stroke="#343434" stroke-width="5.2"/><path d="M1073.9,508.3 L1079.0,477.1" stroke="#4e4e4e" stroke-width="3.4"/><path d="M1073.4,508.2 L1078.5,477.0" stroke="#666666" stroke-width="1.4"/></g>
<circle cx="1072.5" cy="304.0" r="8.4" fill="url(#bO)"/>
<circle cx="971.4" cy="405.3" r="8.4" fill="url(#bO)"/>
<circle cx="1174.8" cy="407.4" r="8.4" fill="url(#bO)"/>
<circle cx="1073.9" cy="508.3" r="8.4" fill="url(#bO)"/>
<g fill="none" stroke-linecap="round"><path d="M1073.8,338.6 L1041.9,372.0" stroke="#343434" stroke-width="5.2"/><path d="M1073.8,338.6 L1041.9,372.0" stroke="#4e4e4e" stroke-width="3.4"/><path d="M1073.4,338.3 L1041.5,371.6" stroke="#666666" stroke-width="1.4"/></g>
<g fill="none" stroke-linecap="round"><path d="M1018.3,394.2 L1041.9,372.0" stroke="#343434" stroke-width="5.2"/><path d="M1018.3,394.2 L1041.9,372.0" stroke="#4e4e4e" stroke-width="3.4"/><path d="M1017.9,393.8 L1041.5,371.6" stroke="#666666" stroke-width="1.4"/></g>
<g fill="none" stroke-linecap="round"><path d="M1084.4,339.4 L1107.4,372.0" stroke="#343434" stroke-width="5.2"/><path d="M1084.4,339.4 L1107.4,372.0" stroke="#4e4e4e" stroke-width="3.4"/><path d="M1084.9,339.1 L1107.8,371.7" stroke="#666666" stroke-width="1.4"/></g>
<g fill="none" stroke-linecap="round"><path d="M1140.3,396.2 L1107.4,372.0" stroke="#343434" stroke-width="5.2"/><path d="M1140.3,396.2 L1107.4,372.0" stroke="#4e4e4e" stroke-width="3.4"/><path d="M1140.6,395.8 L1107.7,371.6" stroke="#666666" stroke-width="1.4"/></g>
<g fill="none" stroke-linecap="round"><path d="M1017.5,406.4 L1042.8,437.4" stroke="#343434" stroke-width="5.2"/><path d="M1017.5,406.4 L1042.8,437.4" stroke="#4e4e4e" stroke-width="3.4"/><path d="M1017.9,406.1 L1043.2,437.1" stroke="#666666" stroke-width="1.4"/></g>
<g fill="none" stroke-linecap="round"><path d="M1074.0,463.4 L1042.8,437.4" stroke="#343434" stroke-width="5.2"/><path d="M1074.0,463.4 L1042.8,437.4" stroke="#4e4e4e" stroke-width="3.4"/><path d="M1074.3,463.0 L1043.1,437.0" stroke="#666666" stroke-width="1.4"/></g>
<g fill="none" stroke-linecap="round"><path d="M1140.9,406.9 L1108.3,437.4" stroke="#343434" stroke-width="5.2"/><path d="M1140.9,406.9 L1108.3,437.4" stroke="#4e4e4e" stroke-width="3.4"/><path d="M1140.5,406.5 L1107.9,437.0" stroke="#666666" stroke-width="1.4"/></g>
<g fill="none" stroke-linecap="round"><path d="M1086.0,462.5 L1108.3,437.4" stroke="#343434" stroke-width="5.2"/><path d="M1086.0,462.5 L1108.3,437.4" stroke="#4e4e4e" stroke-width="3.4"/><path d="M1085.6,462.2 L1107.9,437.1" stroke="#666666" stroke-width="1.4"/></g>
<circle cx="1041.9" cy="372.0" r="8.4" fill="url(#bO)"/>
<circle cx="1107.4" cy="372.0" r="8.4" fill="url(#bO)"/>
<circle cx="1042.8" cy="437.4" r="8.4" fill="url(#bO)"/>
<circle cx="1108.3" cy="437.4" r="8.4" fill="url(#bO)"/>
<g fill="none" stroke-linecap="round"><path d="M1069.6,409.4 L1045.0,376.2" stroke="#343434" stroke-width="5.2"/><path d="M1069.6,409.4 L1045.0,376.2" stroke="#4e4e4e" stroke-width="3.4"/><path d="M1070.0,409.1 L1045.4,375.9" stroke="#666666" stroke-width="1.4"/></g>
<g fill="none" stroke-linecap="round"><path d="M1069.6,409.4 L1103.7,375.7" stroke="#343434" stroke-width="5.2"/><path d="M1069.6,409.4 L1103.7,375.7" stroke="#4e4e4e" stroke-width="3.4"/><path d="M1069.2,409.0 L1103.3,375.3" stroke="#666666" stroke-width="1.4"/></g>
<g fill="none" stroke-linecap="round"><path d="M1069.6,409.4 L1046.4,433.6" stroke="#343434" stroke-width="5.2"/><path d="M1069.6,409.4 L1046.4,433.6" stroke="#4e4e4e" stroke-width="3.4"/><path d="M1069.2,409.0 L1046.0,433.3" stroke="#666666" stroke-width="1.4"/></g>
<g fill="none" stroke-linecap="round"><path d="M1069.6,409.4 L1104.1,434.3" stroke="#343434" stroke-width="5.2"/><path d="M1069.6,409.4 L1104.1,434.3" stroke="#4e4e4e" stroke-width="3.4"/><path d="M1069.9,409.0 L1104.4,433.9" stroke="#666666" stroke-width="1.4"/></g>
<g fill="none" stroke-linecap="round"><path d="M1069.6,409.4 L1065.0,353.3" stroke="#4c4c4c" stroke-width="5.2"/><path d="M1069.6,409.4 L1065.0,353.3" stroke="#7c7c7c" stroke-width="3.4"/><path d="M1069.1,409.4 L1064.5,353.3" stroke="#a4a4a4" stroke-width="1.4"/></g>
<g fill="none" stroke-linecap="round"><path d="M1069.6,409.4 L1006.3,412.5" stroke="#4c4c4c" stroke-width="5.2"/><path d="M1069.6,409.4 L1006.3,412.5" stroke="#7c7c7c" stroke-width="3.4"/><path d="M1069.6,408.9 L1006.3,412.0" stroke="#a4a4a4" stroke-width="1.4"/></g>
<g fill="none" stroke-linecap="round"><path d="M1069.6,409.4 L1125.0,413.4" stroke="#4c4c4c" stroke-width="5.2"/><path d="M1069.6,409.4 L1125.0,413.4" stroke="#7c7c7c" stroke-width="3.4"/><path d="M1069.6,408.9 L1125.0,412.9" stroke="#a4a4a4" stroke-width="1.4"/></g>
<g fill="none" stroke-linecap="round"><path d="M1069.6,409.4 L1065.9,472.0" stroke="#4c4c4c" stroke-width="5.2"/><path d="M1069.6,409.4 L1065.9,472.0" stroke="#7c7c7c" stroke-width="3.4"/><path d="M1069.1,409.4 L1065.4,472.0" stroke="#a4a4a4" stroke-width="1.4"/></g>
<circle cx="1069.6" cy="409.4" r="14.2" fill="url(#bZr)"/>
<g fill="none" stroke-linecap="round"><path d="M1067.5,313.3 L1072.5,304.0" stroke="#125252" stroke-width="5.4"/><path d="M1067.5,313.3 L1072.5,304.0" stroke="#1e6c6c" stroke-width="3.6"/><path d="M1067.0,313.0 L1072.0,303.7" stroke="#2c8282" stroke-width="1.4"/></g>
<g fill="none" stroke-linecap="round"><path d="M1068.2,507.3 L1073.9,508.3" stroke="#125252" stroke-width="5.4"/><path d="M1068.2,507.3 L1073.9,508.3" stroke="#1e6c6c" stroke-width="3.6"/><path d="M1068.3,506.8 L1074.0,507.8" stroke="#2c8282" stroke-width="1.4"/></g>
<g fill="none" stroke-linecap="round"><path d="M998.0,409.5 L971.4,405.3" stroke="#125252" stroke-width="5.4"/><path d="M998.0,409.5 L971.4,405.3" stroke="#1e6c6c" stroke-width="3.6"/><path d="M998.1,409.0 L971.5,404.8" stroke="#2c8282" stroke-width="1.4"/></g>
<g fill="none" stroke-linecap="round"><path d="M1166.0,412.5 L1174.8,407.4" stroke="#125252" stroke-width="5.4"/><path d="M1166.0,412.5 L1174.8,407.4" stroke="#1e6c6c" stroke-width="3.6"/><path d="M1165.7,412.0 L1174.5,406.9" stroke="#2c8282" stroke-width="1.4"/></g>
<g fill="none" stroke-linecap="round"><path d="M1065.0,353.3 L1067.5,313.3" stroke="#2f9696" stroke-width="5.4"/><path d="M1065.0,353.3 L1067.5,313.3" stroke="#5cd0d0" stroke-width="3.6"/><path d="M1064.5,353.3 L1067.0,313.3" stroke="#a4f2f2" stroke-width="1.4"/></g>
<g fill="none" stroke-linecap="round"><path d="M1067.5,313.3 L1060.5,282.2" stroke="#125252" stroke-width="6.6"/><path d="M1067.5,313.3 L1060.5,282.2" stroke="#1e6c6c" stroke-width="4.4"/><path d="M1066.9,313.4 L1059.9,282.3" stroke="#2c8282" stroke-width="1.7"/></g>
<g fill="none" stroke-linecap="round"><path d="M1065.9,472.0 L1068.2,507.3" stroke="#2f9696" stroke-width="5.4"/><path d="M1065.9,472.0 L1068.2,507.3" stroke="#5cd0d0" stroke-width="3.6"/><path d="M1065.4,472.0 L1067.7,507.3" stroke="#a4f2f2" stroke-width="1.4"/></g>
<g fill="none" stroke-linecap="round"><path d="M1068.2,507.3 L1063.4,545.8" stroke="#125252" stroke-width="6.6"/><path d="M1068.2,507.3 L1063.4,545.8" stroke="#1e6c6c" stroke-width="4.4"/><path d="M1067.5,507.2 L1062.7,545.7" stroke="#2c8282" stroke-width="1.7"/></g>
<g fill="none" stroke-linecap="round"><path d="M1006.3,412.5 L1000.0,410.6" stroke="#237a7a" stroke-width="5.4"/><path d="M1006.3,412.5 L1000.0,410.6" stroke="#3ba2a2" stroke-width="3.6"/><path d="M1006.5,412.0 L1000.2,410.1" stroke="#62c0c0" stroke-width="1.4"/></g>
<g fill="none" stroke-linecap="round"><path d="M1000.0,410.6 L932.8,414.4" stroke="#237a7a" stroke-width="6.0"/><path d="M1000.0,410.6 L932.8,414.4" stroke="#3ba2a2" stroke-width="4.0"/><path d="M1000.0,410.0 L932.8,413.8" stroke="#62c0c0" stroke-width="1.6"/></g>
<g fill="none" stroke-linecap="round"><path d="M1125.0,413.4 L1163.8,413.8" stroke="#2f9696" stroke-width="5.4"/><path d="M1125.0,413.4 L1163.8,413.8" stroke="#5cd0d0" stroke-width="3.6"/><path d="M1125.0,412.9 L1163.8,413.3" stroke="#a4f2f2" stroke-width="1.4"/></g>
<g fill="none" stroke-linecap="round"><path d="M1163.8,413.8 L1195.2,417.6" stroke="#125252" stroke-width="6.4"/><path d="M1163.8,413.8 L1195.2,417.6" stroke="#1e6c6c" stroke-width="4.2"/><path d="M1163.9,413.2 L1195.3,417.0" stroke="#2c8282" stroke-width="1.7"/></g>
<circle cx="1065.0" cy="353.3" r="9.6" fill="url(#bO)"/>
<circle cx="1006.3" cy="412.5" r="9.6" fill="url(#bO)"/>
<circle cx="1125.0" cy="413.4" r="9.6" fill="url(#bO)"/>
<circle cx="1065.9" cy="472.0" r="9.6" fill="url(#bO)"/>
<text x="151.4" y="589" font-size="35" class="b" text-anchor="middle">I</text>
<text x="469.5" y="589" font-size="35" class="b" text-anchor="middle">II</text>
<text x="776" y="589" font-size="35" class="b" text-anchor="middle">III</text>
<text x="1072.3" y="589" font-size="35" class="b" text-anchor="middle">IV</text>
<text x="46.1" y="636.7" font-size="38.5" class="r">c<tspan dx="1.4">)</tspan></text>
<path d="M102.1,794.1L116.1,812.0M116.1,812.0L101.8,831.6M110.3,811.5L98.0,828.3M85.7,836.5L63.6,828.3M63.6,828.3L63.6,795.5M68.8,825.3L68.8,798.5M63.6,795.5L85.6,788.8M200.9,723.7L221.8,735.4M198.8,728.4L216.7,738.4M221.8,735.4L221.8,768.8M221.8,768.8L191.9,785.5M216.7,765.8L192.0,779.6M191.9,785.5L162.0,768.8M162.0,768.8L162.0,735.4M167.1,765.8L167.1,738.4M162.0,735.4L182.9,723.7M191.9,821.2L221.8,837.9M221.8,837.9L221.8,871.3M216.7,840.9L216.7,868.3M221.8,871.3L200.9,883.0M182.9,883.0L162.0,871.3M185.0,878.3L167.1,868.3M162.0,871.3L162.0,837.9M162.0,837.9L191.9,821.2M167.1,840.9L191.8,827.1M191.9,785.5L191.9,821.2M310.9,770.2L339.8,785.9M311.1,776.2L334.7,789.0M339.8,785.9L339.8,820.9M339.8,820.9L310.9,836.5M334.7,817.8L311.1,830.6M310.9,836.5L282.0,820.9M282.0,820.9L282.0,785.9M287.1,817.9L287.1,788.9M282.0,785.9L310.9,770.2M310.9,770.2L310.9,735.1M311.9,733.4L291.7,722.0M309.9,736.8L289.8,725.5M310.9,735.1L332.3,723.9M310.9,836.5L310.9,871.5M309.9,873.2L331.9,885.9M311.9,869.8L333.9,882.5M310.9,871.5L292.3,883.3M469.5,777.5L498.3,794.9M469.4,783.4L493.1,797.7M498.3,794.9L498.3,828.1M498.3,828.1L469.5,845.5M493.1,825.3L469.4,839.6M469.5,845.5L440.7,828.1M440.7,828.1L440.7,794.9M445.8,825.1L445.8,797.9M440.7,794.9L469.5,777.5M469.5,777.5L469.6,743.6M470.5,741.8L448.5,730.6M468.7,745.4L446.6,734.1M469.6,743.6L489.2,733.0M440.7,828.1L410.3,845.8M411.3,844.0L391.0,833.0M409.3,847.6L389.1,836.5M410.3,845.8L409.6,869.2M498.3,828.1L527.6,845.8M525.6,845.9L526.2,870.3M529.6,845.7L530.2,870.2M527.6,845.8L547.1,835.2M676.0,772.6L709.6,772.6M709.6,772.6L726.4,802.5M706.6,777.7L720.5,802.4M726.4,802.5L709.6,832.4M709.6,832.4L676.0,832.4M706.6,827.3L679.0,827.3M676.0,832.4L659.2,802.5M659.2,802.5L676.0,772.6M665.1,802.4L679.0,777.7M659.2,802.5L631.6,802.5M726.4,802.5L752.6,802.5M676.0,772.6L658.6,744.8M625.0,685.0L658.6,685.0M628.0,690.1L655.6,690.1M658.6,685.0L675.4,714.9M675.4,714.9L658.6,744.8M669.5,715.0L655.7,739.7M658.6,744.8L625.0,744.8M625.0,744.8L608.2,714.9M628.0,739.7L614.2,715.0M608.2,714.9L625.0,685.0M625.0,685.0L608.2,656.0M608.2,654.0L583.4,654.0M608.2,658.0L583.4,658.0M608.2,656.0L619.1,636.0M709.6,772.6L726.9,744.8M726.9,685.0L760.6,685.0M760.6,685.0L777.4,714.9M757.6,690.1L771.4,714.8M777.4,714.9L760.6,744.8M760.6,744.8L726.9,744.8M757.6,739.7L729.9,739.7M726.9,744.8L710.1,714.9M710.1,714.9L726.9,685.0M716.1,714.8L729.9,690.1M760.6,685.0L777.4,656.0M777.4,658.0L802.1,658.0M777.4,654.0L802.1,654.0M777.4,656.0L766.5,636.0M676.0,832.4L658.6,860.2M625.0,860.2L658.6,860.2M628.0,865.3L655.6,865.3M658.6,860.2L675.4,890.1M675.4,890.1L658.6,920.0M669.5,890.2L655.7,914.9M658.6,920.0L625.0,920.0M625.0,920.0L608.2,890.1M628.0,914.9L614.2,890.2M608.2,890.1L625.0,860.2M625.0,920.0L608.2,949.0M606.5,949.9L617.9,972.0M610.0,948.1L621.5,970.2M608.2,949.0L585.2,950.8M709.6,832.4L726.9,860.2M726.9,860.2L760.6,860.2M760.6,860.2L777.4,890.1M757.6,865.3L771.4,890.0M777.4,890.1L760.6,920.0M760.6,920.0L726.9,920.0M757.6,914.9L729.9,914.9M726.9,920.0L710.1,890.1M710.1,890.1L726.9,860.2M716.1,890.0L729.9,865.3M760.6,920.0L777.4,949.0M777.2,951.0L802.0,952.9M777.5,947.0L802.3,948.9M777.4,949.0L766.3,970.2M1001.4,786.8L1031.3,803.5M1001.5,792.7L1026.2,806.5M1031.3,803.5L1031.3,836.9M1031.3,836.9L1001.4,853.6M1026.2,833.9L1001.5,847.7M1001.4,853.6L971.5,836.9M971.5,836.9L971.5,803.5M976.6,833.9L976.6,806.5M971.5,803.5L1001.4,786.8M1001.4,684.4L1031.3,701.1M1001.5,690.3L1026.2,704.1M1031.3,701.1L1031.3,734.5M1031.3,734.5L1001.4,751.2M1026.2,731.5L1001.5,745.3M1001.4,751.2L971.5,734.5M971.5,734.5L971.5,701.1M976.6,731.5L976.6,704.1M971.5,701.1L1001.4,684.4M1001.4,786.8L1001.4,751.2M971.5,701.1L941.8,683.6M943.8,683.6L943.8,662.4M939.8,683.6L939.8,662.4M941.8,683.6L922.2,696.5M1031.3,701.1L1060.4,683.6M1059.3,685.3L1079.1,698.7M1061.5,681.9L1081.4,695.4M1060.4,683.6L1060.4,663.4M912.0,837.5L941.9,854.2M912.1,843.4L936.8,857.2M941.9,854.2L941.9,887.6M941.9,887.6L912.0,904.3M936.8,884.6L912.1,898.4M912.0,904.3L882.1,887.6M882.1,887.6L882.1,854.2M887.2,884.6L887.2,857.2M882.1,854.2L912.0,837.5M971.5,836.9L941.9,854.2M882.1,854.2L853.4,837.9M855.4,837.9L855.4,814.6M851.4,837.9L851.4,814.6M853.4,837.9L834.2,849.7M912.0,904.3L912.0,937.8M910.9,936.1L890.5,949.7M913.1,939.5L892.7,953.0M912.0,937.8L933.8,951.2M1089.0,837.5L1118.9,854.2M1089.1,843.4L1113.8,857.2M1118.9,854.2L1118.9,887.6M1118.9,887.6L1089.0,904.3M1113.8,884.6L1089.1,898.4M1089.0,904.3L1059.1,887.6M1059.1,887.6L1059.1,854.2M1064.2,884.6L1064.2,857.2M1059.1,854.2L1089.0,837.5M1031.3,836.9L1059.1,854.2M1118.9,854.2L1148.8,837.9M1147.8,839.6L1168.0,851.9M1149.8,836.2L1170.0,848.5M1148.8,837.9L1148.8,815.6M1089.0,904.3L1089.0,937.8M1087.9,936.1L1067.3,949.7M1090.1,939.5L1069.5,953.1M1089.0,937.8L1109.5,951.0" fill="none" stroke="#111" stroke-width="1.75" stroke-linecap="round" stroke-linejoin="round"/>
<g font-size="21" class="r" fill="#111"><text transform="translate(95.6,793.7) scale(0.955,1.075)" text-anchor="middle">N</text><text transform="translate(95.6,775.9) scale(0.955,1.075)" text-anchor="middle">H</text><text transform="translate(95.6,848.0) scale(0.955,1.075)" text-anchor="middle">N</text><text transform="translate(191.9,726.6) scale(0.955,1.075)" text-anchor="middle">N</text><text transform="translate(191.9,895.9) scale(0.955,1.075)" text-anchor="middle">N</text><text transform="translate(282.4,726.9) scale(0.955,1.075)" text-anchor="middle">O</text><text transform="translate(333.9,726.9) scale(0.955,1.075)">OH</text><text transform="translate(341.2,896.9) scale(0.955,1.075)" text-anchor="middle">O</text><text transform="translate(291.2,896.9) scale(0.955,1.075)" text-anchor="end">HO</text><text transform="translate(439.0,735.9) scale(0.955,1.075)" text-anchor="middle">O</text><text transform="translate(490.7,735.9) scale(0.955,1.075)">OH</text><text transform="translate(381.6,838.1) scale(0.955,1.075)" text-anchor="middle">O</text><text transform="translate(401.5,887.7) scale(0.955,1.075)">OH</text><text transform="translate(528.5,887.7) scale(0.955,1.075)" text-anchor="middle">O</text><text transform="translate(548.6,838.1) scale(0.955,1.075)">OH</text><text transform="translate(619.4,810.7) scale(0.955,1.075)" text-anchor="middle" font-size="19.6">Br</text><text transform="translate(766.0,810.7) scale(0.955,1.075)" text-anchor="middle" font-size="19.6">Br</text><text transform="translate(573.8,663.9) scale(0.955,1.075)" text-anchor="middle">O</text><text transform="translate(616.3,634.6) scale(0.955,1.075)">OH</text><text transform="translate(811.8,663.9) scale(0.955,1.075)" text-anchor="middle">O</text><text transform="translate(769.3,634.6) scale(0.955,1.075)" text-anchor="end">HO</text><text transform="translate(624.1,987.5) scale(0.955,1.075)" text-anchor="middle">O</text><text transform="translate(582.5,959.5) scale(0.955,1.075)" text-anchor="end">HO</text><text transform="translate(811.8,959.5) scale(0.955,1.075)" text-anchor="middle">O</text><text transform="translate(769.3,987.5) scale(0.955,1.075)" text-anchor="end">HO</text><text transform="translate(941.8,660.7) scale(0.955,1.075)" text-anchor="middle">O</text><text transform="translate(921.2,710.3) scale(0.955,1.075)" text-anchor="end">HO</text><text transform="translate(1088.2,710.3) scale(0.955,1.075)" text-anchor="middle">O</text><text transform="translate(1052.6,660.7) scale(0.955,1.075)">OH</text><text transform="translate(853.4,812.9) scale(0.955,1.075)" text-anchor="middle">O</text><text transform="translate(833.0,863.1) scale(0.955,1.075)" text-anchor="end">HO</text><text transform="translate(883.6,964.6) scale(0.955,1.075)" text-anchor="middle">O</text><text transform="translate(935.0,964.6) scale(0.955,1.075)">OH</text><text transform="translate(1177.2,863.1) scale(0.955,1.075)" text-anchor="middle">O</text><text transform="translate(1141.0,812.9) scale(0.955,1.075)">OH</text><text transform="translate(1060.4,964.6) scale(0.955,1.075)" text-anchor="middle">O</text><text transform="translate(1110.6,964.6) scale(0.955,1.075)">OH</text></g>
<text transform="translate(93.2,943.3) scale(1.03,1)" font-size="27.3" class="b" text-anchor="middle">Him</text>
<text transform="translate(194.8,945.0) scale(1.03,1)" font-size="27.3" class="b" text-anchor="middle">bipy</text>
<text transform="translate(311.4,943.5) scale(1.03,1)" font-size="27.3" class="b" text-anchor="middle">H<tspan font-size="14.5" dy="5.6">2</tspan><tspan dy="-5.6">bdc</tspan></text>
<text transform="translate(471.5,943.5) scale(1.03,1)" font-size="27.3" class="b" text-anchor="middle">H<tspan font-size="14.5" dy="5.6">3</tspan><tspan dy="-5.6">btc</tspan></text>
<text transform="translate(696.4,1022.7) scale(1.03,1)" font-size="27.3" class="b" text-anchor="middle">H<tspan font-size="15.8" dy="5.4">4</tspan><tspan dy="-5.4">Br-tcpb</tspan></text>
<text transform="translate(1007.5,1022.8) scale(1.03,1)" font-size="27.3" class="b" text-anchor="middle">H<tspan font-size="12.8" dy="5.6">6</tspan><tspan dy="-5.6">bhb</tspan></text></svg></body></html>
